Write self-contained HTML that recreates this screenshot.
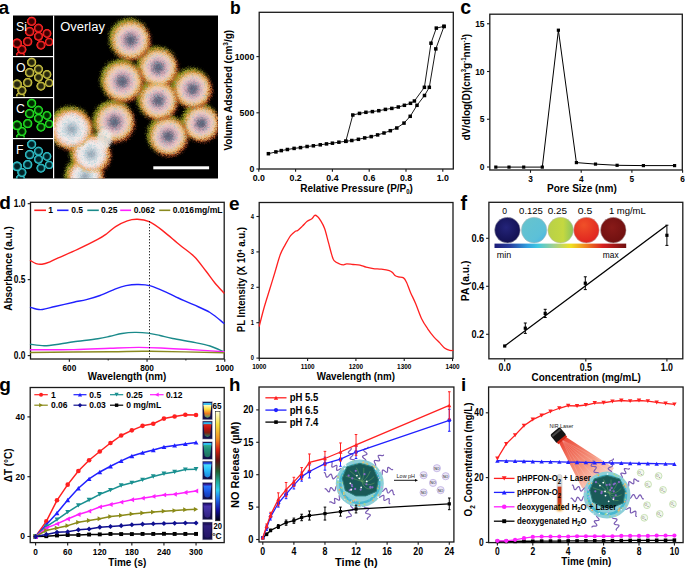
<!DOCTYPE html>
<html><head><meta charset="utf-8"><style>
html,body{margin:0;padding:0;background:#fff;width:685px;height:569px;overflow:hidden}
svg{display:block;font-family:"Liberation Sans", sans-serif}
</style></head><body>
<svg width="685" height="569" viewBox="0 0 685 569">
<rect width="685" height="569" fill="#fff"/>
<defs>
<radialGradient id="pg" cx="50%" cy="50%" r="50%">
<stop offset="0" stop-color="#585a70"/>
<stop offset="0.2" stop-color="#6e6a80"/>
<stop offset="0.44" stop-color="#d4a8b4"/>
<stop offset="0.64" stop-color="#f0ccc8"/>
<stop offset="0.82" stop-color="#f0c898"/>
<stop offset="0.94" stop-color="#e8a850"/>
<stop offset="1" stop-color="#d0b840" stop-opacity="0.7"/>
</radialGradient>
<radialGradient id="pgw" cx="50%" cy="50%" r="50%">
<stop offset="0" stop-color="#8a98a8"/>
<stop offset="0.3" stop-color="#c8d0d8"/>
<stop offset="0.55" stop-color="#f4eeee"/>
<stop offset="0.78" stop-color="#f4d8d0"/>
<stop offset="0.9" stop-color="#f0a060"/>
<stop offset="1" stop-color="#d8c040"/>
</radialGradient>
<filter id="blur2" x="-30%" y="-30%" width="160%" height="160%"><feGaussianBlur stdDeviation="1.6"/></filter>
<filter id="blur1" x="-30%" y="-30%" width="160%" height="160%"><feGaussianBlur stdDeviation="0.9"/></filter>
<filter id="disp" x="-10%" y="-10%" width="120%" height="120%">
<feTurbulence type="turbulence" baseFrequency="0.7" numOctaves="2" seed="7" result="t"/>
<feDisplacementMap in="SourceGraphic" in2="t" scale="4" xChannelSelector="R" yChannelSelector="G"/>
</filter>
<filter id="disp2" x="-10%" y="-10%" width="120%" height="120%">
<feTurbulence type="turbulence" baseFrequency="1.2" numOctaves="1" seed="5" result="t"/>
<feDisplacementMap in="SourceGraphic" in2="t" scale="1.4" xChannelSelector="R" yChannelSelector="G"/>
</filter>
<filter id="noise" x="0" y="0" width="100%" height="100%">
<feTurbulence type="fractalNoise" baseFrequency="0.9" numOctaves="2" seed="4" result="t"/>
<feColorMatrix in="t" type="matrix" values="0 0 0 0 0.1  0 0 0 0 0.5  0 0 0 0 0.6  0 0 0 1.6 -0.75" result="c"/>
<feComposite in="c" in2="SourceGraphic" operator="in"/>
</filter>

<radialGradient id="g_si" cx="50%" cy="50%" r="50%">
<stop offset="0" stop-color="#3a0000"/>
<stop offset="0.45" stop-color="#3a0000"/>
<stop offset="0.78" stop-color="#ff2424"/>
<stop offset="0.92" stop-color="#ff2424" stop-opacity="0.8"/>
<stop offset="1" stop-color="#ff2424" stop-opacity="0.1"/>
</radialGradient>
<radialGradient id="g_o" cx="50%" cy="50%" r="50%">
<stop offset="0" stop-color="#282810"/>
<stop offset="0.45" stop-color="#282810"/>
<stop offset="0.78" stop-color="#c8c040"/>
<stop offset="0.92" stop-color="#c8c040" stop-opacity="0.8"/>
<stop offset="1" stop-color="#c8c040" stop-opacity="0.1"/>
</radialGradient>
<radialGradient id="g_c" cx="50%" cy="50%" r="50%">
<stop offset="0" stop-color="#002a00"/>
<stop offset="0.45" stop-color="#002a00"/>
<stop offset="0.78" stop-color="#22e022"/>
<stop offset="0.92" stop-color="#22e022" stop-opacity="0.8"/>
<stop offset="1" stop-color="#22e022" stop-opacity="0.1"/>
</radialGradient>
<radialGradient id="g_f" cx="50%" cy="50%" r="50%">
<stop offset="0" stop-color="#002428"/>
<stop offset="0.45" stop-color="#002428"/>
<stop offset="0.78" stop-color="#30c0c8"/>
<stop offset="0.92" stop-color="#30c0c8" stop-opacity="0.8"/>
<stop offset="1" stop-color="#30c0c8" stop-opacity="0.1"/>
</radialGradient>
</defs>
<rect x="13" y="15.5" width="205" height="163" fill="#000"/>
<svg x="54" y="15.5" width="164" height="163" overflow="hidden"><g transform="translate(-54 -15.5)"><g filter="url(#disp)">
<g filter="url(#blur2)" opacity="0.85">
<circle cx="128.30" cy="37.80" r="20.4" fill="#b0b828"/>
<circle cx="156.00" cy="65.40" r="20.0" fill="#b0b828"/>
<circle cx="190.40" cy="86.90" r="19.599999999999998" fill="#b0b828"/>
<circle cx="120.20" cy="79.30" r="21.0" fill="#b0b828"/>
<circle cx="156.00" cy="98.40" r="20.0" fill="#b0b828"/>
<circle cx="199.00" cy="121.30" r="18.7" fill="#b0b828"/>
<circle cx="166.00" cy="134.20" r="20.0" fill="#b0b828"/>
<circle cx="82.80" cy="174.80" r="19.2" fill="#b0b828"/>
<circle cx="112.30" cy="119.90" r="20.599999999999998" fill="#b0b828"/>
<circle cx="88.80" cy="151.80" r="20.2" fill="#b0b828"/>
<circle cx="69.30" cy="127.00" r="21.7" fill="#b0b828"/>
<circle cx="130.50" cy="40.00" r="19.4" fill="#d85828"/>
<circle cx="158.20" cy="67.60" r="19.0" fill="#d85828"/>
<circle cx="192.60" cy="89.10" r="18.599999999999998" fill="#d85828"/>
<circle cx="122.40" cy="81.50" r="20.0" fill="#d85828"/>
<circle cx="158.20" cy="100.60" r="19.0" fill="#d85828"/>
<circle cx="201.20" cy="123.50" r="17.7" fill="#d85828"/>
<circle cx="168.20" cy="136.40" r="19.0" fill="#d85828"/>
<circle cx="85.00" cy="177.00" r="18.2" fill="#d85828"/>
<circle cx="114.50" cy="122.10" r="19.599999999999998" fill="#d85828"/>
<circle cx="91.00" cy="154.00" r="19.2" fill="#d85828"/>
<circle cx="71.50" cy="129.20" r="20.7" fill="#d85828"/>
</g>
<g filter="url(#blur1)">
<circle cx="129.50" cy="39.00" r="18.2" fill="url(#pg)"/>
<circle cx="157.20" cy="66.60" r="17.8" fill="url(#pg)"/>
<circle cx="191.60" cy="88.10" r="17.4" fill="url(#pg)"/>
<circle cx="121.40" cy="80.50" r="18.8" fill="url(#pg)"/>
<circle cx="157.20" cy="99.60" r="17.8" fill="url(#pg)"/>
<circle cx="200.20" cy="122.50" r="16.5" fill="url(#pg)"/>
<circle cx="167.20" cy="135.40" r="17.8" fill="url(#pg)"/>
<circle cx="84.00" cy="176.00" r="17" fill="url(#pgw)"/>
<circle cx="113.50" cy="121.10" r="18.4" fill="url(#pg)"/>
<circle cx="90.00" cy="153.00" r="18" fill="url(#pgw)"/>
<circle cx="70.50" cy="128.20" r="19.5" fill="url(#pgw)"/>
</g>
<ellipse cx="103" cy="138" rx="8" ry="10" fill="#f0eeee" opacity="0.85" filter="url(#blur2)"/>
<g filter="url(#noise)" opacity="0.6">
<circle cx="129.50" cy="39.00" r="20.2" fill="#fff"/>
<circle cx="157.20" cy="66.60" r="19.8" fill="#fff"/>
<circle cx="191.60" cy="88.10" r="19.4" fill="#fff"/>
<circle cx="121.40" cy="80.50" r="20.8" fill="#fff"/>
<circle cx="157.20" cy="99.60" r="19.8" fill="#fff"/>
<circle cx="200.20" cy="122.50" r="18.5" fill="#fff"/>
<circle cx="167.20" cy="135.40" r="19.8" fill="#fff"/>
<circle cx="84.00" cy="176.00" r="19" fill="#fff"/>
<circle cx="113.50" cy="121.10" r="20.4" fill="#fff"/>
<circle cx="90.00" cy="153.00" r="20" fill="#fff"/>
<circle cx="70.50" cy="128.20" r="21.5" fill="#fff"/>
</g>
</g></g></svg>
<svg x="13" y="15.5" width="40.5" height="40" overflow="hidden">
<g><g transform="scale(0.247) translate(-54 -15.5)">
<circle cx="129.50" cy="39.00" r="20.2" fill="url(#g_si)" filter="url(#blur1)"/>
<circle cx="157.20" cy="66.60" r="19.8" fill="url(#g_si)" filter="url(#blur1)"/>
<circle cx="191.60" cy="88.10" r="19.4" fill="url(#g_si)" filter="url(#blur1)"/>
<circle cx="121.40" cy="80.50" r="20.8" fill="url(#g_si)" filter="url(#blur1)"/>
<circle cx="157.20" cy="99.60" r="19.8" fill="url(#g_si)" filter="url(#blur1)"/>
<circle cx="200.20" cy="122.50" r="18.5" fill="url(#g_si)" filter="url(#blur1)"/>
<circle cx="167.20" cy="135.40" r="19.8" fill="url(#g_si)" filter="url(#blur1)"/>
<circle cx="84.00" cy="176.00" r="19" fill="url(#g_si)" filter="url(#blur1)"/>
<circle cx="113.50" cy="121.10" r="20.4" fill="url(#g_si)" filter="url(#blur1)"/>
<circle cx="90.00" cy="153.00" r="20" fill="url(#g_si)" filter="url(#blur1)"/>
<circle cx="70.50" cy="128.20" r="21.5" fill="url(#g_si)" filter="url(#blur1)"/>
</g></g></svg>
<text x="0" y="0" font-size="12.3" font-weight="normal" text-anchor="start" fill="#fff" transform="translate(16 30.8)">Si</text>
<svg x="13" y="56.5" width="40.5" height="40" overflow="hidden">
<g><g transform="scale(0.247) translate(-54 -15.5)">
<circle cx="129.50" cy="39.00" r="20.2" fill="url(#g_o)" filter="url(#blur1)"/>
<circle cx="157.20" cy="66.60" r="19.8" fill="url(#g_o)" filter="url(#blur1)"/>
<circle cx="191.60" cy="88.10" r="19.4" fill="url(#g_o)" filter="url(#blur1)"/>
<circle cx="121.40" cy="80.50" r="20.8" fill="url(#g_o)" filter="url(#blur1)"/>
<circle cx="157.20" cy="99.60" r="19.8" fill="url(#g_o)" filter="url(#blur1)"/>
<circle cx="200.20" cy="122.50" r="18.5" fill="url(#g_o)" filter="url(#blur1)"/>
<circle cx="167.20" cy="135.40" r="19.8" fill="url(#g_o)" filter="url(#blur1)"/>
<circle cx="84.00" cy="176.00" r="19" fill="url(#g_o)" filter="url(#blur1)"/>
<circle cx="113.50" cy="121.10" r="20.4" fill="url(#g_o)" filter="url(#blur1)"/>
<circle cx="90.00" cy="153.00" r="20" fill="url(#g_o)" filter="url(#blur1)"/>
<circle cx="70.50" cy="128.20" r="21.5" fill="url(#g_o)" filter="url(#blur1)"/>
</g></g></svg>
<text x="0" y="0" font-size="12.3" font-weight="normal" text-anchor="start" fill="#fff" transform="translate(16 71.8)">O</text>
<svg x="13" y="97.5" width="40.5" height="40" overflow="hidden">
<g><g transform="scale(0.247) translate(-54 -15.5)">
<circle cx="129.50" cy="39.00" r="20.2" fill="url(#g_c)" filter="url(#blur1)"/>
<circle cx="157.20" cy="66.60" r="19.8" fill="url(#g_c)" filter="url(#blur1)"/>
<circle cx="191.60" cy="88.10" r="19.4" fill="url(#g_c)" filter="url(#blur1)"/>
<circle cx="121.40" cy="80.50" r="20.8" fill="url(#g_c)" filter="url(#blur1)"/>
<circle cx="157.20" cy="99.60" r="19.8" fill="url(#g_c)" filter="url(#blur1)"/>
<circle cx="200.20" cy="122.50" r="18.5" fill="url(#g_c)" filter="url(#blur1)"/>
<circle cx="167.20" cy="135.40" r="19.8" fill="url(#g_c)" filter="url(#blur1)"/>
<circle cx="84.00" cy="176.00" r="19" fill="url(#g_c)" filter="url(#blur1)"/>
<circle cx="113.50" cy="121.10" r="20.4" fill="url(#g_c)" filter="url(#blur1)"/>
<circle cx="90.00" cy="153.00" r="20" fill="url(#g_c)" filter="url(#blur1)"/>
<circle cx="70.50" cy="128.20" r="21.5" fill="url(#g_c)" filter="url(#blur1)"/>
</g></g></svg>
<text x="0" y="0" font-size="12.3" font-weight="normal" text-anchor="start" fill="#fff" transform="translate(16 112.8)">C</text>
<svg x="13" y="138.5" width="40.5" height="40" overflow="hidden">
<g><g transform="scale(0.247) translate(-54 -15.5)">
<circle cx="129.50" cy="39.00" r="20.2" fill="url(#g_f)" filter="url(#blur1)"/>
<circle cx="157.20" cy="66.60" r="19.8" fill="url(#g_f)" filter="url(#blur1)"/>
<circle cx="191.60" cy="88.10" r="19.4" fill="url(#g_f)" filter="url(#blur1)"/>
<circle cx="121.40" cy="80.50" r="20.8" fill="url(#g_f)" filter="url(#blur1)"/>
<circle cx="157.20" cy="99.60" r="19.8" fill="url(#g_f)" filter="url(#blur1)"/>
<circle cx="200.20" cy="122.50" r="18.5" fill="url(#g_f)" filter="url(#blur1)"/>
<circle cx="167.20" cy="135.40" r="19.8" fill="url(#g_f)" filter="url(#blur1)"/>
<circle cx="84.00" cy="176.00" r="19" fill="url(#g_f)" filter="url(#blur1)"/>
<circle cx="113.50" cy="121.10" r="20.4" fill="url(#g_f)" filter="url(#blur1)"/>
<circle cx="90.00" cy="153.00" r="20" fill="url(#g_f)" filter="url(#blur1)"/>
<circle cx="70.50" cy="128.20" r="21.5" fill="url(#g_f)" filter="url(#blur1)"/>
</g></g></svg>
<text x="0" y="0" font-size="12.3" font-weight="normal" text-anchor="start" fill="#fff" transform="translate(16 153.8)">F</text>
<rect x="53" y="15.5" width="1.2" height="163" fill="#fff"/>
<rect x="13" y="56" width="40.5" height="1.2" fill="#fff"/>
<rect x="13" y="97" width="40.5" height="1.2" fill="#fff"/>
<rect x="13" y="138" width="40.5" height="1.2" fill="#fff"/>
<text x="0" y="0" font-size="12.3" font-weight="normal" text-anchor="start" fill="#fff" transform="translate(60.2 31)" textLength="44.8" lengthAdjust="spacingAndGlyphs">Overlay</text>
<rect x="153.3" y="166.3" width="55.8" height="3" fill="#fff"/>
<text x="0" y="0" font-size="19.2" font-weight="bold" text-anchor="start" fill="#000" transform="translate(-1.6 13.8)">a</text>
<rect x="259.2" y="12.3" width="194.10000000000002" height="156.7" fill="none" stroke="#1a1a1a" stroke-width="1.3"/>
<line x1="256.40" y1="169.00" x2="259.20" y2="169.00" stroke="#1a1a1a" stroke-width="1.1"/>
<text x="0" y="0" font-size="8.8" font-weight="bold" text-anchor="end" fill="#000" transform="translate(254.3 172.1) scale(1 1.1)">0</text>
<line x1="256.40" y1="112.80" x2="259.20" y2="112.80" stroke="#1a1a1a" stroke-width="1.1"/>
<text x="0" y="0" font-size="8.8" font-weight="bold" text-anchor="end" fill="#000" transform="translate(254.3 115.89999999999999) scale(1 1.1)">500</text>
<line x1="256.40" y1="56.60" x2="259.20" y2="56.60" stroke="#1a1a1a" stroke-width="1.1"/>
<text x="0" y="0" font-size="8.8" font-weight="bold" text-anchor="end" fill="#000" transform="translate(254.3 59.699999999999996) scale(1 1.1)">1000</text>
<line x1="258.80" y1="169.00" x2="258.80" y2="171.80" stroke="#1a1a1a" stroke-width="1.1"/>
<text x="0" y="0" font-size="8.8" font-weight="bold" text-anchor="middle" fill="#000" transform="translate(258.8 181) scale(1 1.1)">0.0</text>
<line x1="295.60" y1="169.00" x2="295.60" y2="171.80" stroke="#1a1a1a" stroke-width="1.1"/>
<text x="0" y="0" font-size="8.8" font-weight="bold" text-anchor="middle" fill="#000" transform="translate(295.6 181) scale(1 1.1)">0.2</text>
<line x1="332.40" y1="169.00" x2="332.40" y2="171.80" stroke="#1a1a1a" stroke-width="1.1"/>
<text x="0" y="0" font-size="8.8" font-weight="bold" text-anchor="middle" fill="#000" transform="translate(332.40000000000003 181) scale(1 1.1)">0.4</text>
<line x1="369.20" y1="169.00" x2="369.20" y2="171.80" stroke="#1a1a1a" stroke-width="1.1"/>
<text x="0" y="0" font-size="8.8" font-weight="bold" text-anchor="middle" fill="#000" transform="translate(369.2 181) scale(1 1.1)">0.6</text>
<line x1="406.00" y1="169.00" x2="406.00" y2="171.80" stroke="#1a1a1a" stroke-width="1.1"/>
<text x="0" y="0" font-size="8.8" font-weight="bold" text-anchor="middle" fill="#000" transform="translate(406.0 181) scale(1 1.1)">0.8</text>
<line x1="442.80" y1="169.00" x2="442.80" y2="171.80" stroke="#1a1a1a" stroke-width="1.1"/>
<text x="0" y="0" font-size="8.8" font-weight="bold" text-anchor="middle" fill="#000" transform="translate(442.8 181) scale(1 1.1)">1.0</text>
<polyline points="268.40,153.70 275.90,151.90 281.30,150.60 287.40,149.50 294.10,148.40 300.50,147.60 307.10,146.50 313.40,145.80 320.30,144.80 326.50,143.90 332.40,143.20 338.90,142.20 345.80,141.30 351.80,140.50 358.40,139.30 364.70,137.90 371.20,136.60 377.60,134.90 384.00,133.00 390.30,130.70 396.80,128.00 404.00,123.10 410.20,116.30 417.00,105.30 424.50,95.50 429.30,87.30 435.80,48.90 444.00,26.40" fill="none" stroke="#000" stroke-width="0.9" stroke-linejoin="round"/>
<polyline points="345.80,141.30 352.80,115.00 359.50,113.40 365.90,112.30 372.40,111.60 378.80,110.70 385.40,109.40 391.80,108.40 398.30,107.00 404.40,105.30 410.50,103.30 414.40,101.00 424.40,87.30 431.00,43.20 436.30,28.10 444.00,26.40" fill="none" stroke="#000" stroke-width="0.9" stroke-linejoin="round"/>
<rect x="266.65" y="151.95" width="3.5" height="3.5" fill="#000"/>
<rect x="274.15" y="150.15" width="3.5" height="3.5" fill="#000"/>
<rect x="279.55" y="148.85" width="3.5" height="3.5" fill="#000"/>
<rect x="285.65" y="147.75" width="3.5" height="3.5" fill="#000"/>
<rect x="292.35" y="146.65" width="3.5" height="3.5" fill="#000"/>
<rect x="298.75" y="145.85" width="3.5" height="3.5" fill="#000"/>
<rect x="305.35" y="144.75" width="3.5" height="3.5" fill="#000"/>
<rect x="311.65" y="144.05" width="3.5" height="3.5" fill="#000"/>
<rect x="318.55" y="143.05" width="3.5" height="3.5" fill="#000"/>
<rect x="324.75" y="142.15" width="3.5" height="3.5" fill="#000"/>
<rect x="330.65" y="141.45" width="3.5" height="3.5" fill="#000"/>
<rect x="337.15" y="140.45" width="3.5" height="3.5" fill="#000"/>
<rect x="344.05" y="139.55" width="3.5" height="3.5" fill="#000"/>
<rect x="350.05" y="138.75" width="3.5" height="3.5" fill="#000"/>
<rect x="356.65" y="137.55" width="3.5" height="3.5" fill="#000"/>
<rect x="362.95" y="136.15" width="3.5" height="3.5" fill="#000"/>
<rect x="369.45" y="134.85" width="3.5" height="3.5" fill="#000"/>
<rect x="375.85" y="133.15" width="3.5" height="3.5" fill="#000"/>
<rect x="382.25" y="131.25" width="3.5" height="3.5" fill="#000"/>
<rect x="388.55" y="128.95" width="3.5" height="3.5" fill="#000"/>
<rect x="395.05" y="126.25" width="3.5" height="3.5" fill="#000"/>
<rect x="402.25" y="121.35" width="3.5" height="3.5" fill="#000"/>
<rect x="408.45" y="114.55" width="3.5" height="3.5" fill="#000"/>
<rect x="415.25" y="103.55" width="3.5" height="3.5" fill="#000"/>
<rect x="422.75" y="93.75" width="3.5" height="3.5" fill="#000"/>
<rect x="427.55" y="85.55" width="3.5" height="3.5" fill="#000"/>
<rect x="434.05" y="47.15" width="3.5" height="3.5" fill="#000"/>
<rect x="442.25" y="24.65" width="3.5" height="3.5" fill="#000"/>
<rect x="344.05" y="139.55" width="3.5" height="3.5" fill="#000"/>
<rect x="351.05" y="113.25" width="3.5" height="3.5" fill="#000"/>
<rect x="357.75" y="111.65" width="3.5" height="3.5" fill="#000"/>
<rect x="364.15" y="110.55" width="3.5" height="3.5" fill="#000"/>
<rect x="370.65" y="109.85" width="3.5" height="3.5" fill="#000"/>
<rect x="377.05" y="108.95" width="3.5" height="3.5" fill="#000"/>
<rect x="383.65" y="107.65" width="3.5" height="3.5" fill="#000"/>
<rect x="390.05" y="106.65" width="3.5" height="3.5" fill="#000"/>
<rect x="396.55" y="105.25" width="3.5" height="3.5" fill="#000"/>
<rect x="402.65" y="103.55" width="3.5" height="3.5" fill="#000"/>
<rect x="408.75" y="101.55" width="3.5" height="3.5" fill="#000"/>
<rect x="412.65" y="99.25" width="3.5" height="3.5" fill="#000"/>
<rect x="422.65" y="85.55" width="3.5" height="3.5" fill="#000"/>
<rect x="429.25" y="41.45" width="3.5" height="3.5" fill="#000"/>
<rect x="434.55" y="26.35" width="3.5" height="3.5" fill="#000"/>
<rect x="442.25" y="24.65" width="3.5" height="3.5" fill="#000"/>
<text x="0" y="0" font-size="10" font-weight="bold" text-anchor="start" fill="#000" transform="translate(300.2 191.6) scale(1 1.1)">Relative Pressure (P/P<tspan font-size="6" dy="2">0</tspan><tspan dy="-2">)</tspan></text>
<text x="0" y="0" font-size="10" font-weight="bold" text-anchor="start" fill="#000" transform="translate(232.2 150.6) rotate(-90) scale(1 1.1)">Volume Adsorbed (cm<tspan font-size="6.5" dy="-3.5">3</tspan><tspan dy="3.5">/g)</tspan></text>
<text x="0" y="0" font-size="17.5" font-weight="bold" text-anchor="start" fill="#000" transform="translate(230 13.9)">b</text>
<rect x="489.8" y="14.2" width="192.49999999999994" height="155.8" fill="none" stroke="#1a1a1a" stroke-width="1.3"/>
<line x1="487.00" y1="167.00" x2="489.80" y2="167.00" stroke="#1a1a1a" stroke-width="1.1"/>
<text x="0" y="0" font-size="8.5" font-weight="bold" text-anchor="end" fill="#000" transform="translate(484.6 170.0) scale(1 1.1)">0</text>
<line x1="487.00" y1="119.25" x2="489.80" y2="119.25" stroke="#1a1a1a" stroke-width="1.1"/>
<text x="0" y="0" font-size="8.5" font-weight="bold" text-anchor="end" fill="#000" transform="translate(484.6 122.25) scale(1 1.1)">5</text>
<line x1="487.00" y1="71.50" x2="489.80" y2="71.50" stroke="#1a1a1a" stroke-width="1.1"/>
<text x="0" y="0" font-size="8.5" font-weight="bold" text-anchor="end" fill="#000" transform="translate(484.6 74.5) scale(1 1.1)">10</text>
<line x1="487.00" y1="23.75" x2="489.80" y2="23.75" stroke="#1a1a1a" stroke-width="1.1"/>
<text x="0" y="0" font-size="8.5" font-weight="bold" text-anchor="end" fill="#000" transform="translate(484.6 26.75) scale(1 1.1)">15</text>
<line x1="530.50" y1="170.00" x2="530.50" y2="172.80" stroke="#1a1a1a" stroke-width="1.1"/>
<text x="0" y="0" font-size="8.3" font-weight="bold" text-anchor="middle" fill="#000" transform="translate(530.5 182.4) scale(1 1.1)">3</text>
<line x1="581.20" y1="170.00" x2="581.20" y2="172.80" stroke="#1a1a1a" stroke-width="1.1"/>
<text x="0" y="0" font-size="8.3" font-weight="bold" text-anchor="middle" fill="#000" transform="translate(581.2 182.4) scale(1 1.1)">4</text>
<line x1="631.90" y1="170.00" x2="631.90" y2="172.80" stroke="#1a1a1a" stroke-width="1.1"/>
<text x="0" y="0" font-size="8.3" font-weight="bold" text-anchor="middle" fill="#000" transform="translate(631.9 182.4) scale(1 1.1)">5</text>
<line x1="682.60" y1="170.00" x2="682.60" y2="172.80" stroke="#1a1a1a" stroke-width="1.1"/>
<text x="0" y="0" font-size="8.3" font-weight="bold" text-anchor="middle" fill="#000" transform="translate(682.6 182.4) scale(1 1.1)">6</text>
<polyline points="495.80,167.10 509.00,167.10 523.70,167.10 542.30,167.10 558.40,30.20 576.40,162.60 595.50,164.10 617.10,165.30 643.40,165.60 674.60,165.60" fill="none" stroke="#000" stroke-width="1.0" stroke-linejoin="round"/>
<rect x="494.20" y="165.50" width="3.2" height="3.2" fill="#000"/>
<rect x="507.40" y="165.50" width="3.2" height="3.2" fill="#000"/>
<rect x="522.10" y="165.50" width="3.2" height="3.2" fill="#000"/>
<rect x="540.70" y="165.50" width="3.2" height="3.2" fill="#000"/>
<rect x="556.80" y="28.60" width="3.2" height="3.2" fill="#000"/>
<rect x="574.80" y="161.00" width="3.2" height="3.2" fill="#000"/>
<rect x="593.90" y="162.50" width="3.2" height="3.2" fill="#000"/>
<rect x="615.50" y="163.70" width="3.2" height="3.2" fill="#000"/>
<rect x="641.80" y="164.00" width="3.2" height="3.2" fill="#000"/>
<rect x="673.00" y="164.00" width="3.2" height="3.2" fill="#000"/>
<text x="0" y="0" font-size="10" font-weight="bold" text-anchor="start" fill="#000" transform="translate(547 191.9)" textLength="69.8" lengthAdjust="spacingAndGlyphs">Pore Size (nm)</text>
<text x="0" y="0" font-size="10" font-weight="bold" text-anchor="start" fill="#000" transform="translate(469.6 140.5) rotate(-90) scale(1 1.1)">dV/dlog(D)(cm<tspan font-size="6" dy="-3">3</tspan><tspan dy="3">g</tspan><tspan font-size="6" dy="-3">-1</tspan><tspan dy="3">nm</tspan><tspan font-size="6" dy="-3">-1</tspan><tspan dy="3">)</tspan></text>
<text x="0" y="0" font-size="19.5" font-weight="bold" text-anchor="start" fill="#000" transform="translate(460.3 14.1)">c</text>
<rect x="30.5" y="202.3" width="193.7" height="156.7" fill="none" stroke="#1a1a1a" stroke-width="1.3"/>
<line x1="27.70" y1="355.60" x2="30.50" y2="355.60" stroke="#1a1a1a" stroke-width="1.1"/>
<text x="0" y="0" font-size="8.4" font-weight="bold" text-anchor="end" fill="#000" transform="translate(25.4 358.70000000000005) scale(1 1.25)">0.0</text>
<line x1="27.70" y1="279.65" x2="30.50" y2="279.65" stroke="#1a1a1a" stroke-width="1.1"/>
<text x="0" y="0" font-size="8.4" font-weight="bold" text-anchor="end" fill="#000" transform="translate(25.4 282.75000000000006) scale(1 1.25)">0.5</text>
<line x1="27.70" y1="203.70" x2="30.50" y2="203.70" stroke="#1a1a1a" stroke-width="1.1"/>
<text x="0" y="0" font-size="8.4" font-weight="bold" text-anchor="end" fill="#000" transform="translate(25.4 206.8) scale(1 1.25)">1.0</text>
<line x1="69.35" y1="359.00" x2="69.35" y2="361.80" stroke="#1a1a1a" stroke-width="1.1"/>
<text x="0" y="0" font-size="8.3" font-weight="bold" text-anchor="middle" fill="#000" transform="translate(69.35 371.2) scale(1 1.2)">600</text>
<line x1="147.05" y1="359.00" x2="147.05" y2="361.80" stroke="#1a1a1a" stroke-width="1.1"/>
<text x="0" y="0" font-size="8.3" font-weight="bold" text-anchor="middle" fill="#000" transform="translate(147.05 371.2) scale(1 1.2)">800</text>
<line x1="224.75" y1="359.00" x2="224.75" y2="361.80" stroke="#1a1a1a" stroke-width="1.1"/>
<text x="0" y="0" font-size="8.3" font-weight="bold" text-anchor="middle" fill="#000" transform="translate(224.75 371.2) scale(1 1.2)">1000</text>
<line x1="108.20" y1="359.00" x2="108.20" y2="360.50" stroke="#1a1a1a" stroke-width="1.0"/>
<line x1="185.90" y1="359.00" x2="185.90" y2="360.50" stroke="#1a1a1a" stroke-width="1.0"/>
<path d="M30.50,260.60 C31.42,261.10 34.08,263.00 36.00,263.60 C37.92,264.20 39.67,264.50 42.00,264.20 C44.33,263.90 47.47,262.77 50.00,261.80 C52.53,260.83 52.60,260.47 57.20,258.40 C61.80,256.33 70.78,252.60 77.60,249.40 C84.42,246.20 93.20,241.85 98.10,239.20 C103.00,236.55 104.08,235.60 107.00,233.50 C109.92,231.40 112.22,228.72 115.60,226.60 C118.98,224.48 123.65,222.02 127.30,220.80 C130.95,219.58 133.85,219.15 137.50,219.30 C141.15,219.45 145.07,219.85 149.20,221.70 C153.33,223.55 157.20,226.52 162.30,230.40 C167.40,234.28 174.45,240.62 179.80,245.00 C185.15,249.38 190.02,252.32 194.40,256.70 C198.78,261.08 202.68,266.92 206.10,271.30 C209.52,275.68 211.93,279.38 214.90,283.00 C217.87,286.62 222.40,291.33 223.90,293.00" fill="none" stroke="#ff2020" stroke-width="1.4" stroke-linejoin="round" stroke-linecap="round"/>
<path d="M30.50,307.30 C31.42,307.58 34.00,308.63 36.00,309.00 C38.00,309.37 39.33,309.92 42.50,309.50 C45.67,309.08 49.78,307.72 55.00,306.50 C60.22,305.28 68.57,303.35 73.80,302.20 C79.03,301.05 82.03,300.72 86.40,299.60 C90.77,298.48 95.13,297.30 100.00,295.50 C104.87,293.70 111.27,290.45 115.60,288.80 C119.93,287.15 122.35,286.32 126.00,285.60 C129.65,284.88 133.40,284.45 137.50,284.50 C141.60,284.55 145.50,284.45 150.60,285.90 C155.70,287.35 163.48,291.18 168.10,293.20 C172.72,295.22 174.07,296.08 178.30,298.00 C182.53,299.92 188.22,302.28 193.50,304.70 C198.78,307.12 204.93,309.40 210.00,312.50 C215.07,315.60 221.58,321.50 223.90,323.30" fill="none" stroke="#2020ff" stroke-width="1.4" stroke-linejoin="round" stroke-linecap="round"/>
<path d="M30.50,344.20 C32.80,344.45 39.38,345.73 44.30,345.70 C49.22,345.67 55.08,344.65 60.00,344.00 C64.92,343.35 67.50,342.68 73.80,341.80 C80.10,340.92 91.77,339.62 97.80,338.70 C103.83,337.78 105.97,337.17 110.00,336.30 C114.03,335.43 117.88,334.15 122.00,333.50 C126.12,332.85 130.37,332.47 134.70,332.40 C139.03,332.33 143.78,332.58 148.00,333.10 C152.22,333.62 155.90,334.60 160.00,335.50 C164.10,336.40 166.70,337.32 172.60,338.50 C178.50,339.68 189.17,341.35 195.40,342.60 C201.63,343.85 205.25,344.48 210.00,346.00 C214.75,347.52 221.58,350.75 223.90,351.70" fill="none" stroke="#1a8a8a" stroke-width="1.4" stroke-linejoin="round" stroke-linecap="round"/>
<path d="M30.50,349.80 C37.72,349.77 60.55,349.87 73.80,349.60 C87.05,349.33 99.22,348.57 110.00,348.20 C120.78,347.83 129.33,347.40 138.50,347.40 C147.67,347.40 157.10,347.88 165.00,348.20 C172.90,348.52 176.08,348.72 185.90,349.30 C195.72,349.88 217.57,351.30 223.90,351.70" fill="none" stroke="#ff20ff" stroke-width="1.4" stroke-linejoin="round" stroke-linecap="round"/>
<path d="M30.50,352.50 C43.75,352.37 90.08,351.90 110.00,351.70 C129.92,351.50 131.02,351.13 150.00,351.30 C168.98,351.47 211.58,352.47 223.90,352.70" fill="none" stroke="#8a8a20" stroke-width="1.4" stroke-linejoin="round" stroke-linecap="round"/>
<line x1="149.50" y1="221.00" x2="149.50" y2="357.50" stroke="#000" stroke-width="0.8" stroke-dasharray="1.4,1.6"/>
<line x1="34.30" y1="210.30" x2="46.00" y2="210.30" stroke="#ff2020" stroke-width="1.6"/>
<text x="0" y="0" font-size="8.5" font-weight="bold" text-anchor="start" fill="#000" transform="translate(48.3 213.3) scale(1 1.1)">1</text>
<line x1="57.10" y1="210.30" x2="68.50" y2="210.30" stroke="#2020ff" stroke-width="1.6"/>
<text x="0" y="0" font-size="8.5" font-weight="bold" text-anchor="start" fill="#000" transform="translate(71.2 213.3) scale(1 1.1)">0.5</text>
<line x1="87.30" y1="210.30" x2="98.80" y2="210.30" stroke="#1a8a8a" stroke-width="1.6"/>
<text x="0" y="0" font-size="8.5" font-weight="bold" text-anchor="start" fill="#000" transform="translate(101 213.3) scale(1 1.1)">0.25</text>
<line x1="120.20" y1="210.30" x2="131.10" y2="210.30" stroke="#ff20ff" stroke-width="1.6"/>
<text x="0" y="0" font-size="8.5" font-weight="bold" text-anchor="start" fill="#000" transform="translate(133.7 213.3) scale(1 1.1)">0.062</text>
<line x1="159.20" y1="210.30" x2="170.30" y2="210.30" stroke="#8a8a20" stroke-width="1.6"/>
<text x="0" y="0" font-size="8.5" font-weight="bold" text-anchor="start" fill="#000" transform="translate(172.7 213.3) scale(1 1.1)">0.016</text>
<text x="0" y="0" font-size="8.5" font-weight="bold" text-anchor="start" fill="#000" transform="translate(194.4 213.3) scale(1 1.1)" textLength="28.1" lengthAdjust="spacingAndGlyphs">mg/mL</text>
<text x="0" y="0" font-size="9.8" font-weight="bold" text-anchor="start" fill="#000" transform="translate(87.8 380.4) scale(1 1.1)" textLength="78.4" lengthAdjust="spacingAndGlyphs">Wavelength (nm)</text>
<text x="0" y="0" font-size="10" font-weight="bold" text-anchor="start" fill="#000" transform="translate(11.6 310.8) rotate(-90) scale(1 1.1)" textLength="84.6" lengthAdjust="spacingAndGlyphs">Absorbance (a.u.)</text>
<text x="0" y="0" font-size="19" font-weight="bold" text-anchor="start" fill="#000" transform="translate(-0.8 209.3)">d</text>
<rect x="259.2" y="202.5" width="193.8" height="155.8" fill="none" stroke="#1a1a1a" stroke-width="1.3"/>
<line x1="256.40" y1="358.10" x2="259.20" y2="358.10" stroke="#1a1a1a" stroke-width="1.1"/>
<text x="0" y="0" font-size="5.8" font-weight="bold" text-anchor="end" fill="#000" transform="translate(254 360.20000000000005) scale(1 1.1)">0</text>
<line x1="256.40" y1="322.70" x2="259.20" y2="322.70" stroke="#1a1a1a" stroke-width="1.1"/>
<text x="0" y="0" font-size="5.8" font-weight="bold" text-anchor="end" fill="#000" transform="translate(254 324.80000000000007) scale(1 1.1)">1</text>
<line x1="256.40" y1="287.30" x2="259.20" y2="287.30" stroke="#1a1a1a" stroke-width="1.1"/>
<text x="0" y="0" font-size="5.8" font-weight="bold" text-anchor="end" fill="#000" transform="translate(254 289.40000000000003) scale(1 1.1)">2</text>
<line x1="256.40" y1="251.90" x2="259.20" y2="251.90" stroke="#1a1a1a" stroke-width="1.1"/>
<text x="0" y="0" font-size="5.8" font-weight="bold" text-anchor="end" fill="#000" transform="translate(254 254.00000000000003) scale(1 1.1)">3</text>
<line x1="256.40" y1="216.50" x2="259.20" y2="216.50" stroke="#1a1a1a" stroke-width="1.1"/>
<text x="0" y="0" font-size="5.8" font-weight="bold" text-anchor="end" fill="#000" transform="translate(254 218.60000000000002) scale(1 1.1)">4</text>
<line x1="259.30" y1="358.30" x2="259.30" y2="361.10" stroke="#1a1a1a" stroke-width="1.1"/>
<text x="0" y="0" font-size="6.4" font-weight="bold" text-anchor="middle" fill="#000" transform="translate(259.3 369.2) scale(1 1.1)">1000</text>
<line x1="307.61" y1="358.30" x2="307.61" y2="361.10" stroke="#1a1a1a" stroke-width="1.1"/>
<text x="0" y="0" font-size="6.4" font-weight="bold" text-anchor="middle" fill="#000" transform="translate(307.61 369.2) scale(1 1.1)">1100</text>
<line x1="355.92" y1="358.30" x2="355.92" y2="361.10" stroke="#1a1a1a" stroke-width="1.1"/>
<text x="0" y="0" font-size="6.4" font-weight="bold" text-anchor="middle" fill="#000" transform="translate(355.92 369.2) scale(1 1.1)">1200</text>
<line x1="404.23" y1="358.30" x2="404.23" y2="361.10" stroke="#1a1a1a" stroke-width="1.1"/>
<text x="0" y="0" font-size="6.4" font-weight="bold" text-anchor="middle" fill="#000" transform="translate(404.23 369.2) scale(1 1.1)">1300</text>
<line x1="452.54" y1="358.30" x2="452.54" y2="361.10" stroke="#1a1a1a" stroke-width="1.1"/>
<text x="0" y="0" font-size="6.4" font-weight="bold" text-anchor="middle" fill="#000" transform="translate(452.53999999999996 369.2) scale(1 1.1)">1400</text>
<path d="M259.30,326.00 C260.08,323.00 262.30,314.00 264.00,308.00 C265.70,302.00 267.70,295.88 269.50,290.00 C271.30,284.12 273.00,278.60 274.80,272.70 C276.60,266.80 278.60,259.20 280.30,254.60 C282.00,250.00 283.28,248.27 285.00,245.10 C286.72,241.93 288.88,237.90 290.60,235.60 C292.32,233.30 294.12,232.17 295.30,231.30 C296.48,230.43 296.52,231.27 297.70,230.40 C298.88,229.53 300.82,227.62 302.40,226.10 C303.98,224.58 305.62,222.53 307.20,221.30 C308.78,220.07 310.63,219.70 311.90,218.70 C313.17,217.70 313.87,215.65 314.80,215.30 C315.73,214.95 316.53,215.72 317.50,216.60 C318.47,217.48 319.42,218.62 320.60,220.60 C321.78,222.58 323.28,224.82 324.60,228.50 C325.92,232.18 327.32,238.35 328.50,242.70 C329.68,247.05 330.77,251.62 331.70,254.60 C332.63,257.58 332.78,259.03 334.10,260.60 C335.42,262.17 338.02,263.30 339.60,264.00 C341.18,264.70 342.42,264.82 343.60,264.80 C344.78,264.78 345.13,263.95 346.70,263.90 C348.27,263.85 350.78,264.30 353.00,264.50 C355.22,264.70 357.82,264.65 360.00,265.10 C362.18,265.55 363.90,266.62 366.10,267.20 C368.30,267.78 370.67,268.27 373.20,268.60 C375.73,268.93 378.62,268.87 381.30,269.20 C383.98,269.53 387.45,270.03 389.30,270.60 C391.15,271.17 391.38,271.73 392.40,272.60 C393.42,273.47 394.40,275.08 395.40,275.80 C396.40,276.52 397.05,276.55 398.40,276.90 C399.75,277.25 402.15,277.00 403.50,277.90 C404.85,278.80 405.33,279.88 406.50,282.30 C407.67,284.72 408.98,288.87 410.50,292.40 C412.02,295.93 413.75,299.12 415.60,303.50 C417.45,307.88 419.58,314.48 421.60,318.70 C423.62,322.92 425.67,325.78 427.70,328.80 C429.73,331.82 431.78,334.45 433.80,336.80 C435.82,339.15 437.95,340.98 439.80,342.90 C441.65,344.82 443.22,347.05 444.90,348.30 C446.58,349.55 448.57,350.05 449.90,350.40 C451.23,350.75 452.40,350.40 452.90,350.40" fill="none" stroke="#ff2020" stroke-width="1.3" stroke-linejoin="round" stroke-linecap="round"/>
<text x="0" y="0" font-size="9.8" font-weight="bold" text-anchor="start" fill="#000" transform="translate(316.8 380.2) scale(1 1.1)" textLength="78.2" lengthAdjust="spacingAndGlyphs">Wavelength (nm)</text>
<text x="0" y="0" font-size="9.6" font-weight="bold" text-anchor="start" fill="#000" transform="translate(244.8 332.2) rotate(-90) scale(1 1.1)">PL Intensity (X 10<tspan font-size="5.5" dy="-3">4</tspan><tspan dy="3"> a.u.)</tspan></text>
<text x="0" y="0" font-size="19" font-weight="bold" text-anchor="start" fill="#000" transform="translate(229 209.7)">e</text>
<rect x="488.9" y="202.3" width="193.89999999999998" height="156.5" fill="none" stroke="#1a1a1a" stroke-width="1.3"/>
<line x1="486.10" y1="334.30" x2="488.90" y2="334.30" stroke="#1a1a1a" stroke-width="1.1"/>
<text x="0" y="0" font-size="9.2" font-weight="bold" text-anchor="end" fill="#000" transform="translate(484.2 337.5) scale(1 1.15)">0.2</text>
<line x1="486.10" y1="286.30" x2="488.90" y2="286.30" stroke="#1a1a1a" stroke-width="1.1"/>
<text x="0" y="0" font-size="9.2" font-weight="bold" text-anchor="end" fill="#000" transform="translate(484.2 289.5) scale(1 1.15)">0.4</text>
<line x1="486.10" y1="238.30" x2="488.90" y2="238.30" stroke="#1a1a1a" stroke-width="1.1"/>
<text x="0" y="0" font-size="9.2" font-weight="bold" text-anchor="end" fill="#000" transform="translate(484.2 241.5) scale(1 1.15)">0.6</text>
<line x1="504.70" y1="358.80" x2="504.70" y2="361.60" stroke="#1a1a1a" stroke-width="1.1"/>
<text x="0" y="0" font-size="8.8" font-weight="bold" text-anchor="middle" fill="#000" transform="translate(504.7 371) scale(1 1.15)">0.0</text>
<line x1="585.80" y1="358.80" x2="585.80" y2="361.60" stroke="#1a1a1a" stroke-width="1.1"/>
<text x="0" y="0" font-size="8.8" font-weight="bold" text-anchor="middle" fill="#000" transform="translate(585.8 371) scale(1 1.15)">0.5</text>
<line x1="666.90" y1="358.80" x2="666.90" y2="361.60" stroke="#1a1a1a" stroke-width="1.1"/>
<text x="0" y="0" font-size="8.8" font-weight="bold" text-anchor="middle" fill="#000" transform="translate(666.9 371) scale(1 1.15)">1.0</text>
<line x1="504.70" y1="346.00" x2="666.90" y2="225.30" stroke="#000" stroke-width="1.3"/>
<rect x="503.10" y="344.40" width="3.2" height="3.2" fill="#000"/>
<line x1="525.30" y1="323.00" x2="525.30" y2="333.40" stroke="#000" stroke-width="1"/>
<line x1="523.80" y1="323.00" x2="526.80" y2="323.00" stroke="#000" stroke-width="1"/>
<line x1="523.80" y1="333.40" x2="526.80" y2="333.40" stroke="#000" stroke-width="1"/>
<rect x="523.70" y="326.60" width="3.2" height="3.2" fill="#000"/>
<line x1="545.20" y1="309.30" x2="545.20" y2="317.50" stroke="#000" stroke-width="1"/>
<line x1="543.70" y1="309.30" x2="546.70" y2="309.30" stroke="#000" stroke-width="1"/>
<line x1="543.70" y1="317.50" x2="546.70" y2="317.50" stroke="#000" stroke-width="1"/>
<rect x="543.60" y="311.80" width="3.2" height="3.2" fill="#000"/>
<line x1="585.30" y1="276.80" x2="585.30" y2="289.60" stroke="#000" stroke-width="1"/>
<line x1="583.80" y1="276.80" x2="586.80" y2="276.80" stroke="#000" stroke-width="1"/>
<line x1="583.80" y1="289.60" x2="586.80" y2="289.60" stroke="#000" stroke-width="1"/>
<rect x="583.70" y="281.60" width="3.2" height="3.2" fill="#000"/>
<line x1="666.90" y1="225.20" x2="666.90" y2="245.40" stroke="#000" stroke-width="1"/>
<line x1="665.40" y1="225.20" x2="668.40" y2="225.20" stroke="#000" stroke-width="1"/>
<line x1="665.40" y1="245.40" x2="668.40" y2="245.40" stroke="#000" stroke-width="1"/>
<rect x="665.30" y="233.70" width="3.2" height="3.2" fill="#000"/>
<defs><linearGradient id="cbar" x1="0" x2="1" y1="0" y2="0">
<stop offset="0" stop-color="#1c1c78"/><stop offset="0.12" stop-color="#2840a0"/><stop offset="0.25" stop-color="#30a0e0"/><stop offset="0.33" stop-color="#40c8e0"/><stop offset="0.45" stop-color="#a0d090"/><stop offset="0.58" stop-color="#f0e020"/><stop offset="0.7" stop-color="#f08020"/><stop offset="0.82" stop-color="#d82020"/><stop offset="1" stop-color="#701010"/></linearGradient>
<radialGradient id="c0" cx="45%" cy="40%" r="60%"><stop offset="0" stop-color="#24247a"/><stop offset="1" stop-color="#121050"/></radialGradient>
<linearGradient id="c1" x1="0" y1="0" x2="1" y2="1"><stop offset="0" stop-color="#68c4cc"/><stop offset="0.7" stop-color="#5cc0d8"/><stop offset="1" stop-color="#40b0e8"/></linearGradient>
<linearGradient id="c2" x1="0" y1="0" x2="1" y2="0"><stop offset="0" stop-color="#b8d048"/><stop offset="0.6" stop-color="#c4d840"/><stop offset="1" stop-color="#88c460"/></linearGradient>
<radialGradient id="c3" cx="40%" cy="30%" r="70%"><stop offset="0" stop-color="#f05028"/><stop offset="1" stop-color="#e02420"/></radialGradient>
<radialGradient id="c4" cx="45%" cy="40%" r="60%"><stop offset="0" stop-color="#881a18"/><stop offset="1" stop-color="#701010"/></radialGradient>
</defs>
<circle cx="507.40" cy="230.10" r="12.8" fill="url(#c0)" stroke="#bbb" stroke-width="0.5"/>
<circle cx="534.10" cy="230.10" r="12.8" fill="url(#c1)" stroke="#bbb" stroke-width="0.5"/>
<circle cx="560.60" cy="230.10" r="12.8" fill="url(#c2)" stroke="#bbb" stroke-width="0.5"/>
<circle cx="586.40" cy="230.10" r="12.8" fill="url(#c3)" stroke="#bbb" stroke-width="0.5"/>
<circle cx="613.30" cy="230.10" r="12.8" fill="url(#c4)" stroke="#bbb" stroke-width="0.5"/>
<rect x="494.5" y="243.6" width="131.7" height="4.4" fill="url(#cbar)"/>
<text x="0" y="0" font-size="8.6" font-weight="normal" text-anchor="middle" fill="#000" transform="translate(504.7 213.7)">0</text>
<text x="0" y="0" font-size="8.6" font-weight="normal" text-anchor="start" fill="#000" transform="translate(519.1 213.7)" textLength="23.8" lengthAdjust="spacingAndGlyphs">0.125</text>
<text x="0" y="0" font-size="8.6" font-weight="normal" text-anchor="start" fill="#000" transform="translate(547.8 213.7)" textLength="19.3" lengthAdjust="spacingAndGlyphs">0.25</text>
<text x="0" y="0" font-size="8.6" font-weight="normal" text-anchor="start" fill="#000" transform="translate(577.7 213.7)" textLength="14.5" lengthAdjust="spacingAndGlyphs">0.5</text>
<text x="0" y="0" font-size="8.6" font-weight="normal" text-anchor="start" fill="#000" transform="translate(608.9 213.7)" textLength="36.9" lengthAdjust="spacingAndGlyphs">1 mg/mL</text>
<text x="0" y="0" font-size="8.6" font-weight="normal" text-anchor="start" fill="#000" transform="translate(496.8 257.7)" textLength="14.4" lengthAdjust="spacingAndGlyphs">min</text>
<text x="0" y="0" font-size="8.6" font-weight="normal" text-anchor="start" fill="#000" transform="translate(602.8 257.7)" textLength="15.8" lengthAdjust="spacingAndGlyphs">max</text>
<text x="0" y="0" font-size="9.9" font-weight="bold" text-anchor="start" fill="#000" transform="translate(531.6 380.9) scale(1 1.1)" textLength="109.2" lengthAdjust="spacingAndGlyphs">Concentration (mg/mL)</text>
<text x="0" y="0" font-size="10.2" font-weight="bold" text-anchor="start" fill="#000" transform="translate(469.2 301.2) rotate(-90) scale(1 1.1)" textLength="40.5" lengthAdjust="spacingAndGlyphs">PA (a.u.)</text>
<text x="0" y="0" font-size="19.7" font-weight="bold" text-anchor="start" fill="#000" transform="translate(460.6 209.7)">f</text>
<rect x="30.2" y="387.5" width="194.0" height="155.10000000000002" fill="none" stroke="#1a1a1a" stroke-width="1.3"/>
<line x1="27.40" y1="536.50" x2="30.20" y2="536.50" stroke="#1a1a1a" stroke-width="1.1"/>
<text x="0" y="0" font-size="8.5" font-weight="bold" text-anchor="end" fill="#000" transform="translate(24.9 539.4) scale(1 1.1)">0</text>
<line x1="27.40" y1="476.70" x2="30.20" y2="476.70" stroke="#1a1a1a" stroke-width="1.1"/>
<text x="0" y="0" font-size="8.5" font-weight="bold" text-anchor="end" fill="#000" transform="translate(24.9 479.59999999999997) scale(1 1.1)">20</text>
<line x1="27.40" y1="416.90" x2="30.20" y2="416.90" stroke="#1a1a1a" stroke-width="1.1"/>
<text x="0" y="0" font-size="8.5" font-weight="bold" text-anchor="end" fill="#000" transform="translate(24.9 419.79999999999995) scale(1 1.1)">40</text>
<line x1="35.60" y1="542.60" x2="35.60" y2="545.40" stroke="#1a1a1a" stroke-width="1.1"/>
<text x="0" y="0" font-size="8.3" font-weight="bold" text-anchor="middle" fill="#000" transform="translate(35.6 554.7) scale(1 1.2)">0</text>
<line x1="67.69" y1="542.60" x2="67.69" y2="545.40" stroke="#1a1a1a" stroke-width="1.1"/>
<text x="0" y="0" font-size="8.3" font-weight="bold" text-anchor="middle" fill="#000" transform="translate(67.688 554.7) scale(1 1.2)">60</text>
<line x1="99.78" y1="542.60" x2="99.78" y2="545.40" stroke="#1a1a1a" stroke-width="1.1"/>
<text x="0" y="0" font-size="8.3" font-weight="bold" text-anchor="middle" fill="#000" transform="translate(99.77600000000001 554.7) scale(1 1.2)">120</text>
<line x1="131.86" y1="542.60" x2="131.86" y2="545.40" stroke="#1a1a1a" stroke-width="1.1"/>
<text x="0" y="0" font-size="8.3" font-weight="bold" text-anchor="middle" fill="#000" transform="translate(131.864 554.7) scale(1 1.2)">180</text>
<line x1="163.95" y1="542.60" x2="163.95" y2="545.40" stroke="#1a1a1a" stroke-width="1.1"/>
<text x="0" y="0" font-size="8.3" font-weight="bold" text-anchor="middle" fill="#000" transform="translate(163.952 554.7) scale(1 1.2)">240</text>
<line x1="196.04" y1="542.60" x2="196.04" y2="545.40" stroke="#1a1a1a" stroke-width="1.1"/>
<text x="0" y="0" font-size="8.3" font-weight="bold" text-anchor="middle" fill="#000" transform="translate(196.04000000000002 554.7) scale(1 1.2)">300</text>
<polyline points="35.60,536.50 46.30,536.20 56.99,535.44 67.69,534.99 78.38,534.99 89.08,534.54 99.78,534.39 110.47,533.94 121.17,534.09 131.86,534.09 142.56,533.94 153.26,533.94 163.95,533.79 174.65,533.94 185.34,533.94 196.04,533.94" fill="none" stroke="#000" stroke-width="1.5" stroke-linejoin="round"/>
<rect x="33.65" y="534.54" width="3.9099999999999997" height="3.9099999999999997" fill="#000"/>
<rect x="44.34" y="534.24" width="3.9099999999999997" height="3.9099999999999997" fill="#000"/>
<rect x="55.04" y="533.49" width="3.9099999999999997" height="3.9099999999999997" fill="#000"/>
<rect x="65.73" y="533.04" width="3.9099999999999997" height="3.9099999999999997" fill="#000"/>
<rect x="76.43" y="533.04" width="3.9099999999999997" height="3.9099999999999997" fill="#000"/>
<rect x="87.13" y="532.59" width="3.9099999999999997" height="3.9099999999999997" fill="#000"/>
<rect x="97.82" y="532.43" width="3.9099999999999997" height="3.9099999999999997" fill="#000"/>
<rect x="108.52" y="531.98" width="3.9099999999999997" height="3.9099999999999997" fill="#000"/>
<rect x="119.21" y="532.13" width="3.9099999999999997" height="3.9099999999999997" fill="#000"/>
<rect x="129.91" y="532.13" width="3.9099999999999997" height="3.9099999999999997" fill="#000"/>
<rect x="140.60" y="531.98" width="3.9099999999999997" height="3.9099999999999997" fill="#000"/>
<rect x="151.30" y="531.98" width="3.9099999999999997" height="3.9099999999999997" fill="#000"/>
<rect x="162.00" y="531.83" width="3.9099999999999997" height="3.9099999999999997" fill="#000"/>
<rect x="172.69" y="531.98" width="3.9099999999999997" height="3.9099999999999997" fill="#000"/>
<rect x="183.39" y="531.98" width="3.9099999999999997" height="3.9099999999999997" fill="#000"/>
<rect x="194.09" y="531.98" width="3.9099999999999997" height="3.9099999999999997" fill="#000"/>
<polyline points="35.60,536.50 46.30,521.42 56.99,500.32 67.69,484.64 78.38,471.07 89.08,460.22 99.78,451.47 110.47,443.03 121.17,435.49 131.86,430.37 142.56,425.85 153.26,423.73 163.95,418.61 174.65,416.50 185.34,414.69 196.04,414.99" fill="none" stroke="#ff2020" stroke-width="1.5" stroke-linejoin="round"/>
<circle cx="35.60" cy="536.50" r="2.3" fill="#ff2020"/>
<circle cx="46.30" cy="521.42" r="2.3" fill="#ff2020"/>
<circle cx="56.99" cy="500.32" r="2.3" fill="#ff2020"/>
<circle cx="67.69" cy="484.64" r="2.3" fill="#ff2020"/>
<circle cx="78.38" cy="471.07" r="2.3" fill="#ff2020"/>
<circle cx="89.08" cy="460.22" r="2.3" fill="#ff2020"/>
<circle cx="99.78" cy="451.47" r="2.3" fill="#ff2020"/>
<circle cx="110.47" cy="443.03" r="2.3" fill="#ff2020"/>
<circle cx="121.17" cy="435.49" r="2.3" fill="#ff2020"/>
<circle cx="131.86" cy="430.37" r="2.3" fill="#ff2020"/>
<circle cx="142.56" cy="425.85" r="2.3" fill="#ff2020"/>
<circle cx="153.26" cy="423.73" r="2.3" fill="#ff2020"/>
<circle cx="163.95" cy="418.61" r="2.3" fill="#ff2020"/>
<circle cx="174.65" cy="416.50" r="2.3" fill="#ff2020"/>
<circle cx="185.34" cy="414.69" r="2.3" fill="#ff2020"/>
<circle cx="196.04" cy="414.99" r="2.3" fill="#ff2020"/>
<polyline points="35.60,536.50 46.30,524.74 56.99,512.98 67.69,500.02 78.38,488.26 89.08,478.91 99.78,471.98 110.47,466.25 121.17,460.82 131.86,456.00 142.56,452.68 153.26,449.97 163.95,446.95 174.65,445.44 185.34,443.94 196.04,442.43" fill="none" stroke="#2020ff" stroke-width="1.5" stroke-linejoin="round"/>
<polygon points="33.19,538.67 38.02,538.67 35.60,534.33" fill="#2020ff"/>
<polygon points="43.88,526.91 48.71,526.91 46.30,522.57" fill="#2020ff"/>
<polygon points="54.58,515.16 59.41,515.16 56.99,510.81" fill="#2020ff"/>
<polygon points="65.27,502.19 70.10,502.19 67.69,497.84" fill="#2020ff"/>
<polygon points="75.97,490.43 80.80,490.43 78.38,486.08" fill="#2020ff"/>
<polygon points="86.67,481.08 91.50,481.08 89.08,476.74" fill="#2020ff"/>
<polygon points="97.36,474.15 102.19,474.15 99.78,469.80" fill="#2020ff"/>
<polygon points="108.06,468.42 112.89,468.42 110.47,464.07" fill="#2020ff"/>
<polygon points="118.75,462.99 123.58,462.99 121.17,458.65" fill="#2020ff"/>
<polygon points="129.45,458.17 134.28,458.17 131.86,453.82" fill="#2020ff"/>
<polygon points="140.15,454.85 144.97,454.85 142.56,450.51" fill="#2020ff"/>
<polygon points="150.84,452.14 155.67,452.14 153.26,447.79" fill="#2020ff"/>
<polygon points="161.54,449.12 166.37,449.12 163.95,444.78" fill="#2020ff"/>
<polygon points="172.23,447.62 177.06,447.62 174.65,443.27" fill="#2020ff"/>
<polygon points="182.93,446.11 187.76,446.11 185.34,441.76" fill="#2020ff"/>
<polygon points="193.63,444.60 198.46,444.60 196.04,440.25" fill="#2020ff"/>
<polyline points="35.60,536.50 46.30,526.55 56.99,519.62 67.69,512.08 78.38,505.44 89.08,500.02 99.78,494.29 110.47,490.07 121.17,485.54 131.86,482.83 142.56,479.82 153.26,476.50 163.95,473.79 174.65,471.98 185.34,469.56 196.04,469.26" fill="none" stroke="#1a9090" stroke-width="1.5" stroke-linejoin="round"/>
<polygon points="33.19,534.33 38.02,534.33 35.60,538.67" fill="#1a9090"/>
<polygon points="43.88,524.38 48.71,524.38 46.30,528.72" fill="#1a9090"/>
<polygon points="54.58,517.44 59.41,517.44 56.99,521.79" fill="#1a9090"/>
<polygon points="65.27,509.90 70.10,509.90 67.69,514.25" fill="#1a9090"/>
<polygon points="75.97,503.27 80.80,503.27 78.38,507.62" fill="#1a9090"/>
<polygon points="86.67,497.84 91.50,497.84 89.08,502.19" fill="#1a9090"/>
<polygon points="97.36,492.11 102.19,492.11 99.78,496.46" fill="#1a9090"/>
<polygon points="108.06,487.89 112.89,487.89 110.47,492.24" fill="#1a9090"/>
<polygon points="118.75,483.37 123.58,483.37 121.17,487.72" fill="#1a9090"/>
<polygon points="129.45,480.66 134.28,480.66 131.86,485.00" fill="#1a9090"/>
<polygon points="140.15,477.64 144.97,477.64 142.56,481.99" fill="#1a9090"/>
<polygon points="150.84,474.33 155.67,474.33 153.26,478.67" fill="#1a9090"/>
<polygon points="161.54,471.61 166.37,471.61 163.95,475.96" fill="#1a9090"/>
<polygon points="172.23,469.80 177.06,469.80 174.65,474.15" fill="#1a9090"/>
<polygon points="182.93,467.39 187.76,467.39 185.34,471.74" fill="#1a9090"/>
<polygon points="193.63,467.09 198.46,467.09 196.04,471.44" fill="#1a9090"/>
<polyline points="35.60,536.50 46.30,528.06 56.99,523.84 67.69,519.01 78.38,514.49 89.08,511.17 99.78,506.95 110.47,504.54 121.17,502.13 131.86,499.72 142.56,498.21 153.26,496.40 163.95,494.89 174.65,494.29 185.34,492.48 196.04,490.97" fill="none" stroke="#ff20ff" stroke-width="1.5" stroke-linejoin="round"/>
<polygon points="37.77,534.09 37.77,538.91 33.43,536.50" fill="#ff20ff"/>
<polygon points="48.47,525.64 48.47,530.47 44.12,528.06" fill="#ff20ff"/>
<polygon points="59.17,521.42 59.17,526.25 54.82,523.84" fill="#ff20ff"/>
<polygon points="69.86,516.60 69.86,521.43 65.51,519.01" fill="#ff20ff"/>
<polygon points="80.56,512.07 80.56,516.90 76.21,514.49" fill="#ff20ff"/>
<polygon points="91.25,508.76 91.25,513.59 86.91,511.17" fill="#ff20ff"/>
<polygon points="101.95,504.54 101.95,509.37 97.60,506.95" fill="#ff20ff"/>
<polygon points="112.65,502.12 112.65,506.95 108.30,504.54" fill="#ff20ff"/>
<polygon points="123.34,499.71 123.34,504.54 118.99,502.13" fill="#ff20ff"/>
<polygon points="134.04,497.30 134.04,502.13 129.69,499.72" fill="#ff20ff"/>
<polygon points="144.73,495.79 144.73,500.62 140.39,498.21" fill="#ff20ff"/>
<polygon points="155.43,493.98 155.43,498.81 151.08,496.40" fill="#ff20ff"/>
<polygon points="166.13,492.48 166.13,497.31 161.78,494.89" fill="#ff20ff"/>
<polygon points="176.82,491.87 176.82,496.70 172.47,494.29" fill="#ff20ff"/>
<polygon points="187.52,490.06 187.52,494.89 183.17,492.48" fill="#ff20ff"/>
<polygon points="198.21,488.56 198.21,493.39 193.87,490.97" fill="#ff20ff"/>
<polyline points="35.60,536.50 46.30,530.47 56.99,528.06 67.69,525.65 78.38,522.33 89.08,520.52 99.78,518.71 110.47,516.60 121.17,515.39 131.86,513.89 142.56,512.98 153.26,512.08 163.95,511.17 174.65,510.57 185.34,509.67 196.04,509.36" fill="none" stroke="#8a8a18" stroke-width="1.5" stroke-linejoin="round"/>
<polygon points="33.43,534.09 33.43,538.91 37.77,536.50" fill="#8a8a18"/>
<polygon points="44.12,528.05 44.12,532.88 48.47,530.47" fill="#8a8a18"/>
<polygon points="54.82,525.64 54.82,530.47 59.17,528.06" fill="#8a8a18"/>
<polygon points="65.51,523.23 65.51,528.06 69.86,525.65" fill="#8a8a18"/>
<polygon points="76.21,519.91 76.21,524.74 80.56,522.33" fill="#8a8a18"/>
<polygon points="86.91,518.10 86.91,522.93 91.25,520.52" fill="#8a8a18"/>
<polygon points="97.60,516.30 97.60,521.13 101.95,518.71" fill="#8a8a18"/>
<polygon points="108.30,514.19 108.30,519.02 112.65,516.60" fill="#8a8a18"/>
<polygon points="118.99,512.98 118.99,517.81 123.34,515.39" fill="#8a8a18"/>
<polygon points="129.69,511.47 129.69,516.30 134.04,513.89" fill="#8a8a18"/>
<polygon points="140.39,510.57 140.39,515.40 144.73,512.98" fill="#8a8a18"/>
<polygon points="151.08,509.66 151.08,514.49 155.43,512.08" fill="#8a8a18"/>
<polygon points="161.78,508.76 161.78,513.59 166.13,511.17" fill="#8a8a18"/>
<polygon points="172.47,508.16 172.47,512.99 176.82,510.57" fill="#8a8a18"/>
<polygon points="183.17,507.25 183.17,512.08 187.52,509.67" fill="#8a8a18"/>
<polygon points="193.87,506.95 193.87,511.78 198.21,509.36" fill="#8a8a18"/>
<polyline points="35.60,536.50 46.30,534.39 56.99,532.28 67.69,531.68 78.38,529.87 89.08,528.96 99.78,527.15 110.47,526.55 121.17,525.65 131.86,524.74 142.56,524.14 153.26,523.84 163.95,523.54 174.65,523.23 185.34,522.93 196.04,522.93" fill="none" stroke="#101090" stroke-width="1.5" stroke-linejoin="round"/>
<polygon points="35.60,533.97 38.13,536.50 35.60,539.03 33.07,536.50" fill="#101090"/>
<polygon points="46.30,531.86 48.83,534.39 46.30,536.92 43.77,534.39" fill="#101090"/>
<polygon points="56.99,529.75 59.52,532.28 56.99,534.81 54.46,532.28" fill="#101090"/>
<polygon points="67.69,529.15 70.22,531.68 67.69,534.21 65.16,531.68" fill="#101090"/>
<polygon points="78.38,527.34 80.91,529.87 78.38,532.40 75.85,529.87" fill="#101090"/>
<polygon points="89.08,526.43 91.61,528.96 89.08,531.49 86.55,528.96" fill="#101090"/>
<polygon points="99.78,524.62 102.31,527.15 99.78,529.68 97.25,527.15" fill="#101090"/>
<polygon points="110.47,524.02 113.00,526.55 110.47,529.08 107.94,526.55" fill="#101090"/>
<polygon points="121.17,523.12 123.70,525.65 121.17,528.18 118.64,525.65" fill="#101090"/>
<polygon points="131.86,522.21 134.39,524.74 131.86,527.27 129.33,524.74" fill="#101090"/>
<polygon points="142.56,521.61 145.09,524.14 142.56,526.67 140.03,524.14" fill="#101090"/>
<polygon points="153.26,521.31 155.79,523.84 153.26,526.37 150.73,523.84" fill="#101090"/>
<polygon points="163.95,521.01 166.48,523.54 163.95,526.07 161.42,523.54" fill="#101090"/>
<polygon points="174.65,520.70 177.18,523.23 174.65,525.76 172.12,523.23" fill="#101090"/>
<polygon points="185.34,520.40 187.87,522.93 185.34,525.46 182.81,522.93" fill="#101090"/>
<polygon points="196.04,520.40 198.57,522.93 196.04,525.46 193.51,522.93" fill="#101090"/>
<line x1="34.30" y1="394.70" x2="47.80" y2="394.70" stroke="#ff2020" stroke-width="1.2"/>
<circle cx="41.05" cy="394.70" r="2.0" fill="#ff2020"/>
<text x="0" y="0" font-size="8.5" font-weight="bold" text-anchor="start" fill="#000" transform="translate(51 397.7) scale(1 1.1)">1</text>
<line x1="73.50" y1="394.70" x2="86.50" y2="394.70" stroke="#2020ff" stroke-width="1.2"/>
<polygon points="77.90,396.59 82.10,396.59 80.00,392.81" fill="#2020ff"/>
<text x="0" y="0" font-size="8.5" font-weight="bold" text-anchor="start" fill="#000" transform="translate(89.3 397.7) scale(1 1.1)">0.5</text>
<line x1="110.00" y1="394.70" x2="123.20" y2="394.70" stroke="#1a9090" stroke-width="1.2"/>
<polygon points="114.50,392.81 118.70,392.81 116.60,396.59" fill="#1a9090"/>
<text x="0" y="0" font-size="8.5" font-weight="bold" text-anchor="start" fill="#000" transform="translate(126.2 397.7) scale(1 1.1)">0.25</text>
<line x1="150.00" y1="394.70" x2="163.60" y2="394.70" stroke="#ff20ff" stroke-width="1.2"/>
<polygon points="158.69,392.60 158.69,396.80 154.91,394.70" fill="#ff20ff"/>
<text x="0" y="0" font-size="8.5" font-weight="bold" text-anchor="start" fill="#000" transform="translate(165.9 397.7) scale(1 1.1)">0.12</text>
<line x1="34.30" y1="405.20" x2="47.80" y2="405.20" stroke="#8a8a18" stroke-width="1.2"/>
<polygon points="39.16,403.10 39.16,407.30 42.94,405.20" fill="#8a8a18"/>
<text x="0" y="0" font-size="8.5" font-weight="bold" text-anchor="start" fill="#000" transform="translate(51 408.2) scale(1 1.1)">0.06</text>
<line x1="73.50" y1="405.20" x2="86.50" y2="405.20" stroke="#101090" stroke-width="1.2"/>
<polygon points="80.00,403.00 82.20,405.20 80.00,407.40 77.80,405.20" fill="#101090"/>
<text x="0" y="0" font-size="8.5" font-weight="bold" text-anchor="start" fill="#000" transform="translate(89.3 408.2) scale(1 1.1)">0.03</text>
<line x1="110.00" y1="405.20" x2="123.20" y2="405.20" stroke="#000" stroke-width="1.2"/>
<rect x="114.90" y="403.50" width="3.4" height="3.4" fill="#000"/>
<text x="0" y="0" font-size="8.5" font-weight="bold" text-anchor="start" fill="#000" transform="translate(126.2 408.2) scale(1 1.1)">0 mg/mL</text>
<defs><linearGradient id="tbar" x1="0" x2="0" y1="0" y2="1">
<stop offset="0" stop-color="#ffffe0"/><stop offset="0.12" stop-color="#f8e040"/><stop offset="0.25" stop-color="#f09020"/><stop offset="0.35" stop-color="#d82010"/><stop offset="0.45" stop-color="#601010"/><stop offset="0.55" stop-color="#206030"/><stop offset="0.65" stop-color="#20b0a0"/><stop offset="0.72" stop-color="#30d0f0"/><stop offset="0.8" stop-color="#2070f0"/><stop offset="0.9" stop-color="#1010a0"/><stop offset="1" stop-color="#000010"/></linearGradient></defs>
<linearGradient id="tg0" x1="0" y1="0" x2="0" y2="1"><stop offset="0.00" stop-color="#ffffc8"/><stop offset="0.33" stop-color="#ffe040"/><stop offset="0.67" stop-color="#f07820"/><stop offset="1.00" stop-color="#50a070"/></linearGradient>
<rect x="202.4" y="401.7" width="10" height="18.1" fill="#14104a" stroke="#c8c8d0" stroke-width="0.5"/>
<rect x="203.3" y="402.9" width="8.2" height="2.4" fill="#40c0f0"/>
<path d="M203.4,404.9 L211.4,404.9 L210.2,416.3 Q207.4,419.0 204.6,416.3 Z" fill="url(#tg0)"/>
<linearGradient id="tg1" x1="0" y1="0" x2="0" y2="1"><stop offset="0.00" stop-color="#e02818"/><stop offset="0.33" stop-color="#c01010"/><stop offset="0.67" stop-color="#802010"/><stop offset="1.00" stop-color="#20806a"/></linearGradient>
<rect x="202.4" y="421" width="10" height="18.1" fill="#14104a" stroke="#c8c8d0" stroke-width="0.5"/>
<rect x="203.3" y="422.2" width="8.2" height="2.4" fill="#30b8f0"/>
<path d="M203.4,424.2 L211.4,424.2 L210.2,435.6 Q207.4,438.3 204.6,435.6 Z" fill="url(#tg1)"/>
<linearGradient id="tg2" x1="0" y1="0" x2="0" y2="1"><stop offset="0.00" stop-color="#30b090"/><stop offset="0.33" stop-color="#20907a"/><stop offset="0.67" stop-color="#20806a"/><stop offset="1.00" stop-color="#206a60"/></linearGradient>
<rect x="202.4" y="441.8" width="10" height="17.6" fill="#14104a" stroke="#c8c8d0" stroke-width="0.5"/>
<rect x="203.3" y="443.0" width="8.2" height="2.4" fill="#30c0f0"/>
<path d="M203.4,445.0 L211.4,445.0 L210.2,455.9 Q207.4,458.6 204.6,455.9 Z" fill="url(#tg2)"/>
<linearGradient id="tg3" x1="0" y1="0" x2="0" y2="1"><stop offset="0.00" stop-color="#50e0ff"/><stop offset="0.33" stop-color="#30c8ff"/><stop offset="0.67" stop-color="#20a8f0"/><stop offset="1.00" stop-color="#2080e0"/></linearGradient>
<rect x="202.4" y="461.1" width="10" height="18.5" fill="#14104a" stroke="#c8c8d0" stroke-width="0.5"/>
<rect x="203.3" y="462.3" width="8.2" height="2.4" fill="#2050e0"/>
<path d="M203.4,464.3 L211.4,464.3 L210.2,476.1 Q207.4,478.8 204.6,476.1 Z" fill="url(#tg3)"/>
<linearGradient id="tg4" x1="0" y1="0" x2="0" y2="1"><stop offset="0.00" stop-color="#2a78ff"/><stop offset="0.33" stop-color="#2060f0"/><stop offset="0.67" stop-color="#1848d0"/><stop offset="1.00" stop-color="#1838b0"/></linearGradient>
<rect x="202.4" y="482.4" width="10" height="17.3" fill="#14104a" stroke="#c8c8d0" stroke-width="0.5"/>
<rect x="203.3" y="483.6" width="8.2" height="2.4" fill="#3020a0"/>
<path d="M203.4,485.6 L211.4,485.6 L210.2,496.2 Q207.4,498.9 204.6,496.2 Z" fill="url(#tg4)"/>
<linearGradient id="tg5" x1="0" y1="0" x2="0" y2="1"><stop offset="0.00" stop-color="#4a32b0"/><stop offset="0.33" stop-color="#4030a0"/><stop offset="0.67" stop-color="#382890"/><stop offset="1.00" stop-color="#302080"/></linearGradient>
<rect x="202.4" y="502.4" width="10" height="17.4" fill="#14104a" stroke="#c8c8d0" stroke-width="0.5"/>
<rect x="203.3" y="503.6" width="8.2" height="2.4" fill="#2a1880"/>
<path d="M203.4,505.6 L211.4,505.6 L210.2,516.3 Q207.4,519.0 204.6,516.3 Z" fill="url(#tg5)"/>
<linearGradient id="tg6" x1="0" y1="0" x2="0" y2="1"><stop offset="0.00" stop-color="#30207e"/><stop offset="0.33" stop-color="#2c1c76"/><stop offset="0.67" stop-color="#28186e"/><stop offset="1.00" stop-color="#241468"/></linearGradient>
<rect x="202.4" y="522" width="10" height="17.9" fill="#14104a" stroke="#c8c8d0" stroke-width="0.5"/>
<rect x="203.3" y="523.2" width="8.2" height="2.4" fill="#221460"/>
<path d="M203.4,525.2 L211.4,525.2 L210.2,536.4 Q207.4,539.1 204.6,536.4 Z" fill="url(#tg6)"/>
<rect x="215.5" y="411.3" width="4.5" height="109.5" fill="url(#tbar)" stroke="#222" stroke-width="0.6"/>
<text x="0" y="0" font-size="7.5" font-weight="bold" text-anchor="start" fill="#000" transform="translate(212.6 409.3) scale(1 1.1)" textLength="9" lengthAdjust="spacingAndGlyphs">65</text>
<text x="0" y="0" font-size="7.5" font-weight="bold" text-anchor="start" fill="#000" transform="translate(213.5 529.3) scale(1 1.1)" textLength="8.5" lengthAdjust="spacingAndGlyphs">20</text>
<text x="0" y="0" font-size="7.5" font-weight="bold" text-anchor="start" fill="#000" transform="translate(212.2 539) scale(1 1.1)" textLength="9.5" lengthAdjust="spacingAndGlyphs">°C</text>
<text x="0" y="0" font-size="10" font-weight="bold" text-anchor="start" fill="#000" transform="translate(108.3 566) scale(1 1.1)" textLength="38" lengthAdjust="spacingAndGlyphs">Time (s)</text>
<text x="0" y="0" font-size="10" font-weight="bold" text-anchor="start" fill="#000" transform="translate(11.9 482.2) rotate(-90) scale(1 1.1)" textLength="33.8" lengthAdjust="spacingAndGlyphs">ΔT (°C)</text>
<text x="0" y="0" font-size="19" font-weight="bold" text-anchor="start" fill="#000" transform="translate(-0.8 390.8)">g</text>
<rect x="259" y="387" width="194.89999999999998" height="155" fill="none" stroke="#1a1a1a" stroke-width="1.3"/>
<line x1="256.20" y1="539.50" x2="259.00" y2="539.50" stroke="#1a1a1a" stroke-width="1.1"/>
<text x="0" y="0" font-size="9.3" font-weight="bold" text-anchor="end" fill="#000" transform="translate(253.5 542.8) scale(1 1.18)">0</text>
<line x1="256.20" y1="507.10" x2="259.00" y2="507.10" stroke="#1a1a1a" stroke-width="1.1"/>
<text x="0" y="0" font-size="9.3" font-weight="bold" text-anchor="end" fill="#000" transform="translate(253.5 510.40000000000003) scale(1 1.18)">5</text>
<line x1="256.20" y1="474.70" x2="259.00" y2="474.70" stroke="#1a1a1a" stroke-width="1.1"/>
<text x="0" y="0" font-size="9.3" font-weight="bold" text-anchor="end" fill="#000" transform="translate(253.5 478.0) scale(1 1.18)">10</text>
<line x1="256.20" y1="442.30" x2="259.00" y2="442.30" stroke="#1a1a1a" stroke-width="1.1"/>
<text x="0" y="0" font-size="9.3" font-weight="bold" text-anchor="end" fill="#000" transform="translate(253.5 445.6) scale(1 1.18)">15</text>
<line x1="256.20" y1="409.90" x2="259.00" y2="409.90" stroke="#1a1a1a" stroke-width="1.1"/>
<text x="0" y="0" font-size="9.3" font-weight="bold" text-anchor="end" fill="#000" transform="translate(253.5 413.2) scale(1 1.18)">20</text>
<line x1="262.80" y1="542.00" x2="262.80" y2="544.80" stroke="#1a1a1a" stroke-width="1.1"/>
<text x="0" y="0" font-size="8.8" font-weight="bold" text-anchor="middle" fill="#000" transform="translate(262.8 555.4) scale(1 1.18)">0</text>
<line x1="293.88" y1="542.00" x2="293.88" y2="544.80" stroke="#1a1a1a" stroke-width="1.1"/>
<text x="0" y="0" font-size="8.8" font-weight="bold" text-anchor="middle" fill="#000" transform="translate(293.88 555.4) scale(1 1.18)">4</text>
<line x1="324.96" y1="542.00" x2="324.96" y2="544.80" stroke="#1a1a1a" stroke-width="1.1"/>
<text x="0" y="0" font-size="8.8" font-weight="bold" text-anchor="middle" fill="#000" transform="translate(324.96000000000004 555.4) scale(1 1.18)">8</text>
<line x1="356.04" y1="542.00" x2="356.04" y2="544.80" stroke="#1a1a1a" stroke-width="1.1"/>
<text x="0" y="0" font-size="8.8" font-weight="bold" text-anchor="middle" fill="#000" transform="translate(356.04 555.4) scale(1 1.18)">12</text>
<line x1="387.12" y1="542.00" x2="387.12" y2="544.80" stroke="#1a1a1a" stroke-width="1.1"/>
<text x="0" y="0" font-size="8.8" font-weight="bold" text-anchor="middle" fill="#000" transform="translate(387.12 555.4) scale(1 1.18)">16</text>
<line x1="418.20" y1="542.00" x2="418.20" y2="544.80" stroke="#1a1a1a" stroke-width="1.1"/>
<text x="0" y="0" font-size="8.8" font-weight="bold" text-anchor="middle" fill="#000" transform="translate(418.2 555.4) scale(1 1.18)">20</text>
<line x1="449.28" y1="542.00" x2="449.28" y2="544.80" stroke="#1a1a1a" stroke-width="1.1"/>
<text x="0" y="0" font-size="8.8" font-weight="bold" text-anchor="middle" fill="#000" transform="translate(449.28 555.4) scale(1 1.18)">24</text>
<path d="M341.56,471.10 L341.71,470.08 L341.74,469.24 L341.57,468.71 L341.14,468.55 L340.47,468.75 L339.63,469.19 L338.73,469.74 L337.88,470.19 L337.20,470.40 L336.76,470.26 L336.58,469.74 L336.60,468.91 L336.75,467.90 L336.90,466.88 L336.94,466.03 L336.77,465.48 L336.35,465.31 L335.69,465.49 L334.86,465.93 L333.96,466.47 L333.11,466.93 L332.42,467.16 L331.97,467.03 L331.77,466.53 L331.79,465.71 L331.93,464.70 L332.09,463.68 L332.13,462.82 L331.98,462.25 L331.57,462.06" fill="none" stroke="#7a5cb4" stroke-width="1.2" stroke-linecap="round" stroke-linejoin="round"/>
<path d="M363.62,461.73 L364.62,461.40 L365.41,461.03 L365.84,460.59 L365.82,460.07 L365.38,459.49 L364.64,458.84 L363.78,458.18 L363.03,457.54 L362.58,456.94 L362.54,456.43 L362.94,455.99 L363.72,455.61 L364.72,455.28 L365.72,454.94 L366.53,454.57 L366.97,454.14 L366.97,453.63 L366.54,453.04 L365.81,452.40 L364.96,451.74 L364.20,451.09 L363.73,450.50 L363.67,449.97 L364.06,449.53 L364.82,449.15 L365.81,448.82 L366.82,448.48 L367.64,448.11 L368.10,447.68 L368.12,447.18" fill="none" stroke="#7a5cb4" stroke-width="1.2" stroke-linecap="round" stroke-linejoin="round"/>
<path d="M373.04,465.83 L374.08,465.99 L374.95,466.02 L375.52,465.83 L375.73,465.37 L375.60,464.65 L375.23,463.75 L374.77,462.78 L374.39,461.87 L374.25,461.14 L374.44,460.66 L375.00,460.46 L375.86,460.49 L376.89,460.65 L377.94,460.81 L378.82,460.85 L379.41,460.67 L379.63,460.22 L379.52,459.51 L379.15,458.61 L378.69,457.64 L378.30,456.73 L378.15,455.99 L378.33,455.50 L378.87,455.29 L379.72,455.31 L380.75,455.46 L381.80,455.63 L382.69,455.68 L383.29,455.51 L383.53,455.07" fill="none" stroke="#7a5cb4" stroke-width="1.2" stroke-linecap="round" stroke-linejoin="round"/>
<path d="M379.57,473.76 L380.39,474.39 L381.11,474.83 L381.67,474.94 L382.03,474.64 L382.20,473.96 L382.24,473.01 L382.23,471.95 L382.27,470.99 L382.44,470.29 L382.79,469.98 L383.34,470.07 L384.05,470.50 L384.87,471.13 L385.68,471.77 L386.41,472.22 L386.98,472.35 L387.35,472.07 L387.53,471.40 L387.57,470.45 L387.56,469.40 L387.59,468.43 L387.75,467.71 L388.10,467.38 L388.64,467.46 L389.35,467.88 L390.16,468.50 L390.98,469.14 L391.71,469.61 L392.29,469.75 L392.66,469.49" fill="none" stroke="#7a5cb4" stroke-width="1.2" stroke-linecap="round" stroke-linejoin="round"/>
<path d="M381.05,489.09 L381.27,490.11 L381.54,490.93 L381.91,491.38 L382.40,491.40 L383.00,491.00 L383.67,490.31 L384.38,489.51 L385.06,488.81 L385.66,488.40 L386.15,488.40 L386.52,488.84 L386.80,489.64 L387.02,490.65 L387.24,491.67 L387.51,492.50 L387.87,492.97 L388.36,493.01 L388.95,492.63 L389.62,491.95 L390.33,491.15 L391.01,490.44 L391.61,490.02 L392.11,489.99 L392.49,490.41 L392.77,491.20 L392.99,492.21 L393.21,493.23 L393.47,494.07 L393.83,494.56 L394.31,494.62" fill="none" stroke="#7a5cb4" stroke-width="1.2" stroke-linecap="round" stroke-linejoin="round"/>
<path d="M378.66,494.73 L378.58,495.77 L378.62,496.62 L378.85,497.16 L379.31,497.31 L379.99,497.09 L380.82,496.61 L381.72,496.04 L382.56,495.55 L383.25,495.32 L383.72,495.45 L383.95,495.97 L384.00,496.81 L383.93,497.85 L383.85,498.89 L383.88,499.75 L384.10,500.31 L384.55,500.47 L385.22,500.27 L386.05,499.80 L386.94,499.22 L387.79,498.73 L388.49,498.48 L388.97,498.60 L389.21,499.10 L389.26,499.94 L389.19,500.96 L389.11,502.01 L389.14,502.89 L389.34,503.45 L389.78,503.64" fill="none" stroke="#7a5cb4" stroke-width="1.2" stroke-linecap="round" stroke-linejoin="round"/>
<path d="M365.49,504.65 L364.73,505.36 L364.16,506.02 L363.96,506.58 L364.19,507.02 L364.83,507.35 L365.77,507.61 L366.82,507.83 L367.77,508.08 L368.43,508.41 L368.68,508.85 L368.49,509.40 L367.94,510.05 L367.18,510.76 L366.40,511.47 L365.82,512.13 L365.60,512.70 L365.82,513.15 L366.44,513.48 L367.37,513.74 L368.42,513.96 L369.38,514.21 L370.05,514.54 L370.32,514.97 L370.15,515.52 L369.62,516.17 L368.86,516.88 L368.08,517.59 L367.49,518.25 L367.25,518.82 L367.44,519.27" fill="none" stroke="#7a5cb4" stroke-width="1.2" stroke-linecap="round" stroke-linejoin="round"/>
<path d="M353.00,504.32 L351.97,504.51 L351.13,504.77 L350.65,505.13 L350.60,505.64 L350.96,506.28 L351.60,507.02 L352.36,507.79 L353.01,508.52 L353.38,509.17 L353.35,509.68 L352.89,510.06 L352.07,510.32 L351.04,510.51 L350.00,510.69 L349.15,510.94 L348.65,511.31 L348.58,511.81 L348.92,512.44 L349.56,513.18 L350.31,513.94 L350.98,514.68 L351.36,515.33 L351.35,515.86 L350.91,516.24 L350.10,516.50 L349.07,516.69 L348.03,516.88 L347.17,517.12 L346.65,517.48 L346.57,517.97" fill="none" stroke="#7a5cb4" stroke-width="1.2" stroke-linecap="round" stroke-linejoin="round"/>
<path d="M341.78,496.02 L340.89,495.51 L340.11,495.18 L339.56,495.15 L339.26,495.50 L339.20,496.19 L339.33,497.13 L339.51,498.16 L339.64,499.11 L339.59,499.82 L339.31,500.18 L338.76,500.17 L337.99,499.84 L337.10,499.34 L336.21,498.83 L335.43,498.49 L334.86,498.45 L334.55,498.77 L334.49,499.45 L334.60,500.39 L334.79,501.42 L334.92,502.38 L334.89,503.10 L334.61,503.47 L334.07,503.47 L333.32,503.16 L332.43,502.67 L331.53,502.15 L330.75,501.80 L330.17,501.74 L329.85,502.05" fill="none" stroke="#7a5cb4" stroke-width="1.2" stroke-linecap="round" stroke-linejoin="round"/>
<path d="M338.28,487.97 L337.66,487.16 L337.09,486.55 L336.59,486.30 L336.19,486.50 L335.87,487.12 L335.62,488.03 L335.39,489.05 L335.14,489.98 L334.83,490.61 L334.43,490.83 L333.94,490.60 L333.37,490.00 L332.75,489.19 L332.13,488.37 L331.55,487.75 L331.05,487.49 L330.64,487.67 L330.32,488.27 L330.07,489.17 L329.84,490.19 L329.60,491.12 L329.29,491.77 L328.89,492.01 L328.40,491.80 L327.83,491.22 L327.22,490.41 L326.60,489.59 L326.02,488.95 L325.51,488.67 L325.10,488.83" fill="none" stroke="#7a5cb4" stroke-width="1.2" stroke-linecap="round" stroke-linejoin="round"/>
<path d="M338.45,478.08 L338.19,477.06 L337.87,476.24 L337.47,475.79 L336.95,475.77 L336.34,476.17 L335.65,476.87 L334.93,477.67 L334.23,478.37 L333.61,478.79 L333.09,478.79 L332.68,478.36 L332.36,477.55 L332.10,476.54 L331.84,475.51 L331.52,474.68 L331.12,474.21 L330.61,474.18 L330.00,474.56 L329.31,475.24 L328.59,476.05 L327.90,476.76 L327.27,477.19 L326.75,477.21 L326.33,476.80 L326.01,476.01 L325.74,475.00 L325.48,473.97 L325.17,473.12 L324.78,472.64 L324.27,472.58" fill="none" stroke="#7a5cb4" stroke-width="1.2" stroke-linecap="round" stroke-linejoin="round"/>
<path d="M353.37,462.36 L354.12,461.64 L354.66,460.98 L354.85,460.43 L354.61,460.02 L353.96,459.73 L353.02,459.52 L351.97,459.35 L351.02,459.15 L350.35,458.86 L350.09,458.45 L350.27,457.91 L350.80,457.26 L351.54,456.54 L352.30,455.82 L352.86,455.15 L353.06,454.60 L352.84,454.18 L352.21,453.88 L351.27,453.68 L350.23,453.51 L349.27,453.31 L348.59,453.02 L348.31,452.62 L348.46,452.08 L348.98,451.43 L349.72,450.71 L350.48,449.99 L351.05,449.33 L351.27,448.77 L351.07,448.34" fill="none" stroke="#7a5cb4" stroke-width="1.2" stroke-linecap="round" stroke-linejoin="round"/>
<circle cx="359.80" cy="483.40" r="24" fill="#8ccfd8"/>
<circle cx="359.8" cy="483.4" r="19.5" fill="none" stroke="#48b8d0" stroke-width="2.5"/>
<circle cx="361.11" cy="466.44" r="0.6331652802286298" fill="#ffffff"/>
<circle cx="366.47" cy="463.65" r="0.9507137288057418" fill="#f0c070"/>
<circle cx="376.65" cy="486.68" r="0.5046024692771924" fill="#a0d890"/>
<circle cx="375.56" cy="468.83" r="0.8629263007232576" fill="#ffffff"/>
<circle cx="338.17" cy="479.61" r="0.7764297881464826" fill="#ffffff"/>
<circle cx="347.69" cy="501.05" r="0.7298017328688668" fill="#e0d080"/>
<circle cx="355.56" cy="500.01" r="0.958134917752647" fill="#e0d080"/>
<circle cx="375.38" cy="475.11" r="0.9962717060880326" fill="#70c8e0"/>
<circle cx="371.13" cy="469.69" r="0.9477876973207459" fill="#c8a8e0"/>
<circle cx="379.77" cy="480.01" r="0.753858625255658" fill="#ffffff"/>
<circle cx="375.21" cy="473.65" r="0.7937903030717797" fill="#c8a8e0"/>
<circle cx="376.44" cy="468.25" r="0.6966768115349198" fill="#a0d890"/>
<circle cx="371.96" cy="467.37" r="0.8987021237771514" fill="#70c8e0"/>
<circle cx="344.24" cy="492.69" r="0.9413660120332269" fill="#a0d890"/>
<circle cx="363.32" cy="461.89" r="0.7194808150222816" fill="#f0c070"/>
<circle cx="337.77" cy="482.23" r="0.9199757702397372" fill="#a0d890"/>
<circle cx="344.85" cy="499.22" r="0.5217436451782638" fill="#ffffff"/>
<circle cx="353.05" cy="461.01" r="0.7890879526495922" fill="#a0d890"/>
<circle cx="348.90" cy="468.95" r="0.9910383187692671" fill="#e8a860"/>
<circle cx="362.44" cy="463.06" r="0.7741692335612183" fill="#e0d080"/>
<circle cx="343.93" cy="494.27" r="0.7888974039006016" fill="#e0d080"/>
<circle cx="341.66" cy="488.16" r="0.8044724127542834" fill="#a0d890"/>
<circle cx="357.28" cy="464.07" r="0.910242955962741" fill="#e0d080"/>
<circle cx="376.27" cy="469.10" r="0.5646247138033743" fill="#e0d080"/>
<circle cx="362.94" cy="465.34" r="0.74055090870712" fill="#f0c070"/>
<circle cx="346.20" cy="498.88" r="0.7067000213448893" fill="#a0d890"/>
<circle cx="367.43" cy="465.25" r="0.7692393978689221" fill="#f0c070"/>
<circle cx="344.82" cy="468.71" r="0.7999275923817417" fill="#ffffff"/>
<circle cx="366.90" cy="463.50" r="0.7922304353892207" fill="#a0d890"/>
<circle cx="374.05" cy="466.39" r="0.9256370060758194" fill="#e0d080"/>
<circle cx="375.42" cy="476.17" r="0.5352267365278085" fill="#70c8e0"/>
<circle cx="373.28" cy="468.70" r="0.877793387626099" fill="#e0d080"/>
<circle cx="359.85" cy="501.11" r="0.5923050915614623" fill="#a0d890"/>
<circle cx="355.27" cy="500.91" r="0.7636901995240064" fill="#c8a8e0"/>
<circle cx="369.04" cy="499.75" r="0.6472463885497362" fill="#70c8e0"/>
<circle cx="353.87" cy="464.06" r="0.5118172888159935" fill="#f0c070"/>
<circle cx="344.87" cy="496.31" r="0.6292104166327479" fill="#e8a860"/>
<circle cx="359.33" cy="505.14" r="0.9827817589254999" fill="#e8a860"/>
<circle cx="338.58" cy="493.12" r="0.5089322604138977" fill="#e8a860"/>
<circle cx="372.93" cy="500.65" r="0.722834258171192" fill="#e8a860"/>
<circle cx="340.04" cy="482.62" r="0.6102998740113383" fill="#e0d080"/>
<circle cx="381.73" cy="480.01" r="0.7254225135713659" fill="#a0d890"/>
<circle cx="342.79" cy="480.83" r="0.7879229813940283" fill="#70c8e0"/>
<circle cx="350.67" cy="502.42" r="0.8687256250478549" fill="#f0c070"/>
<circle cx="372.74" cy="496.45" r="0.653193310166623" fill="#f0c070"/>
<circle cx="371.78" cy="468.63" r="0.8719210593335606" fill="#c8a8e0"/>
<circle cx="343.69" cy="492.77" r="0.7803586605143469" fill="#f0c070"/>
<circle cx="372.10" cy="466.58" r="0.981100562590409" fill="#e8a860"/>
<circle cx="343.42" cy="475.66" r="0.9349432139611811" fill="#e0d080"/>
<circle cx="363.75" cy="462.72" r="0.688984417171804" fill="#f0c070"/>
<circle cx="349.31" cy="498.44" r="0.9482828730082143" fill="#70c8e0"/>
<circle cx="342.84" cy="472.43" r="0.6950302693846548" fill="#70c8e0"/>
<circle cx="342.69" cy="482.96" r="0.9358107537117776" fill="#a0d890"/>
<circle cx="373.63" cy="473.31" r="0.9287683715214606" fill="#e8a860"/>
<circle cx="367.54" cy="464.24" r="0.6695478239254669" fill="#e8a860"/>
<circle cx="364.72" cy="504.21" r="0.6896168549812863" fill="#e0d080"/>
<circle cx="337.88" cy="476.64" r="0.8435550910768287" fill="#e0d080"/>
<circle cx="336.51" cy="485.68" r="0.5326613848114952" fill="#e8a860"/>
<circle cx="377.09" cy="487.89" r="0.9554938917540339" fill="#e8a860"/>
<circle cx="364.86" cy="504.74" r="0.7529442416173674" fill="#a0d890"/>
<circle cx="359.16" cy="502.59" r="0.6456076437055673" fill="#f0c070"/>
<circle cx="373.88" cy="467.92" r="0.9436325523584814" fill="#70c8e0"/>
<circle cx="373.38" cy="498.87" r="0.6603629776803321" fill="#f0c070"/>
<circle cx="343.59" cy="494.18" r="0.573664191471435" fill="#e0d080"/>
<circle cx="372.35" cy="495.95" r="0.8909518008163774" fill="#a0d890"/>
<circle cx="344.88" cy="497.76" r="0.7829832586711021" fill="#e8a860"/>
<circle cx="378.31" cy="477.67" r="0.7822234166200988" fill="#c8a8e0"/>
<circle cx="377.60" cy="474.34" r="0.5538653425388584" fill="#c8a8e0"/>
<circle cx="377.95" cy="488.76" r="0.8352058195119655" fill="#a0d890"/>
<circle cx="374.68" cy="493.07" r="0.5200117684450823" fill="#e0d080"/>
<circle cx="361.32" cy="506.77" r="0.5810099173916808" fill="#ffffff"/>
<circle cx="339.39" cy="489.90" r="0.8720032082685042" fill="#e8a860"/>
<circle cx="378.10" cy="497.20" r="0.9032436831677855" fill="#ffffff"/>
<circle cx="338.29" cy="477.45" r="0.6267050680205634" fill="#a0d890"/>
<circle cx="342.33" cy="485.94" r="0.6587081702039399" fill="#70c8e0"/>
<circle cx="381.59" cy="487.17" r="0.8632418647280732" fill="#c8a8e0"/>
<circle cx="351.45" cy="501.07" r="0.5314823950238227" fill="#ffffff"/>
<circle cx="379.74" cy="471.34" r="0.555681155063446" fill="#ffffff"/>
<circle cx="364.36" cy="503.92" r="0.9338069211251654" fill="#a0d890"/>
<circle cx="340.85" cy="487.15" r="0.7708011314564828" fill="#e8a860"/>
<circle cx="353.24" cy="500.81" r="0.9099885235756141" fill="#f0c070"/>
<circle cx="378.33" cy="495.06" r="0.8260052672563353" fill="#f0c070"/>
<circle cx="345.46" cy="465.27" r="0.9832990441724072" fill="#ffffff"/>
<circle cx="377.41" cy="488.05" r="0.9235673829131075" fill="#e0d080"/>
<circle cx="374.68" cy="471.63" r="0.5504738112696461" fill="#c8a8e0"/>
<circle cx="342.78" cy="469.07" r="0.6225490019476243" fill="#f0c070"/>
<circle cx="378.23" cy="485.77" r="0.6340319087773738" fill="#f0c070"/>
<circle cx="374.44" cy="467.33" r="0.8176910467815286" fill="#f0c070"/>
<circle cx="354.18" cy="504.82" r="0.7344171995768285" fill="#ffffff"/>
<circle cx="370.98" cy="469.73" r="0.8974917468730119" fill="#e0d080"/>
<path d="M346.80,466.90 L359.80,463.40 L372.80,466.90 L378.30,479.40 L376.30,491.40 L365.80,495.90 L355.80,495.90 L345.30,490.40 L342.30,478.40Z" fill="#1a5a58" stroke="#2a7a78" stroke-width="1" stroke-linejoin="round"/>
<path d="M361.80,481.40 Q353.39,478.61 345.67,476.05" fill="none" stroke="#6aa860" stroke-width="0.5"/>
<path d="M361.80,481.40 Q356.47,476.13 349.81,470.71" fill="none" stroke="#6aa860" stroke-width="0.5"/>
<path d="M361.80,481.40 Q360.37,475.42 356.39,467.74" fill="none" stroke="#6aa860" stroke-width="0.5"/>
<path d="M361.80,481.40 Q364.12,476.67 363.81,467.87" fill="none" stroke="#6aa860" stroke-width="0.5"/>
<path d="M361.80,481.40 Q366.82,479.56 370.25,471.07" fill="none" stroke="#6aa860" stroke-width="0.5"/>
<path d="M361.80,481.40 Q367.80,483.40 374.13,476.56" fill="none" stroke="#6aa860" stroke-width="0.5"/>
<path d="M361.80,481.40 Q366.82,487.24 374.50,482.98" fill="none" stroke="#6aa860" stroke-width="0.5"/>
<path d="M361.80,481.40 Q364.12,490.13 371.27,488.77" fill="none" stroke="#6aa860" stroke-width="0.5"/>
<circle cx="349.73" cy="490.23" r="1.1" fill="#8a6ac8"/>
<circle cx="352.13" cy="486.25" r="1.1" fill="#8a6ac8"/>
<circle cx="372.42" cy="487.30" r="1.1" fill="#8a6ac8"/>
<circle cx="355.79" cy="470.86" r="1.1" fill="#8a6ac8"/>
<circle cx="360.66" cy="489.55" r="1.1" fill="#8a6ac8"/>
<circle cx="355.14" cy="488.96" r="1.1" fill="#8a6ac8"/>
<circle cx="351.34" cy="489.34" r="1.1" fill="#8a6ac8"/>
<circle cx="348.59" cy="475.67" r="1.1" fill="#8a6ac8"/>
<circle cx="370.38" cy="486.89" r="1.1" fill="#8a6ac8"/>
<circle cx="370.48" cy="487.74" r="1.1" fill="#8a6ac8"/>
<circle cx="366.45" cy="484.26" r="1.1" fill="#8a6ac8"/>
<circle cx="352.25" cy="478.35" r="1.1" fill="#8a6ac8"/>
<circle cx="351.75" cy="484.84" r="1.1" fill="#8a6ac8"/>
<circle cx="364.49" cy="474.21" r="1.1" fill="#8a6ac8"/>
<circle cx="351.15" cy="489.67" r="0.9" fill="#ffffff"/>
<circle cx="366.77" cy="481.39" r="0.9" fill="#ffffff"/>
<circle cx="361.17" cy="487.43" r="0.9" fill="#ffffff"/>
<circle cx="359.32" cy="478.31" r="0.9" fill="#ffffff"/>
<circle cx="356.91" cy="475.56" r="0.9" fill="#ffffff"/>
<circle cx="350.31" cy="483.33" r="0.9" fill="#ffffff"/>
<polyline points="262.80,537.82 266.69,534.32 270.57,530.43 278.34,526.54 286.11,522.65 293.88,520.71 301.65,517.47 309.42,515.52 324.96,513.58 340.50,511.64 356.04,509.04 449.28,503.86" fill="none" stroke="#000" stroke-width="1.3" stroke-linejoin="round"/>
<rect x="261.19" y="536.20" width="3.23" height="3.23" fill="#000"/>
<line x1="266.69" y1="533.02" x2="266.69" y2="535.61" stroke="#000" stroke-width="1"/>
<line x1="265.38" y1="533.02" x2="267.99" y2="533.02" stroke="#000" stroke-width="1"/>
<line x1="265.38" y1="535.61" x2="267.99" y2="535.61" stroke="#000" stroke-width="1"/>
<rect x="265.07" y="532.70" width="3.23" height="3.23" fill="#000"/>
<line x1="270.57" y1="529.13" x2="270.57" y2="531.72" stroke="#000" stroke-width="1"/>
<line x1="269.27" y1="529.13" x2="271.87" y2="529.13" stroke="#000" stroke-width="1"/>
<line x1="269.27" y1="531.72" x2="271.87" y2="531.72" stroke="#000" stroke-width="1"/>
<rect x="268.95" y="528.81" width="3.23" height="3.23" fill="#000"/>
<line x1="278.34" y1="524.60" x2="278.34" y2="528.48" stroke="#000" stroke-width="1"/>
<line x1="277.04" y1="524.60" x2="279.64" y2="524.60" stroke="#000" stroke-width="1"/>
<line x1="277.04" y1="528.48" x2="279.64" y2="528.48" stroke="#000" stroke-width="1"/>
<rect x="276.73" y="524.92" width="3.23" height="3.23" fill="#000"/>
<line x1="286.11" y1="520.06" x2="286.11" y2="525.24" stroke="#000" stroke-width="1"/>
<line x1="284.81" y1="520.06" x2="287.41" y2="520.06" stroke="#000" stroke-width="1"/>
<line x1="284.81" y1="525.24" x2="287.41" y2="525.24" stroke="#000" stroke-width="1"/>
<rect x="284.50" y="521.04" width="3.23" height="3.23" fill="#000"/>
<line x1="293.88" y1="518.12" x2="293.88" y2="523.30" stroke="#000" stroke-width="1"/>
<line x1="292.58" y1="518.12" x2="295.18" y2="518.12" stroke="#000" stroke-width="1"/>
<line x1="292.58" y1="523.30" x2="295.18" y2="523.30" stroke="#000" stroke-width="1"/>
<rect x="292.26" y="519.09" width="3.23" height="3.23" fill="#000"/>
<line x1="301.65" y1="514.23" x2="301.65" y2="520.71" stroke="#000" stroke-width="1"/>
<line x1="300.35" y1="514.23" x2="302.95" y2="514.23" stroke="#000" stroke-width="1"/>
<line x1="300.35" y1="520.71" x2="302.95" y2="520.71" stroke="#000" stroke-width="1"/>
<rect x="300.03" y="515.85" width="3.23" height="3.23" fill="#000"/>
<line x1="309.42" y1="510.99" x2="309.42" y2="520.06" stroke="#000" stroke-width="1"/>
<line x1="308.12" y1="510.99" x2="310.72" y2="510.99" stroke="#000" stroke-width="1"/>
<line x1="308.12" y1="520.06" x2="310.72" y2="520.06" stroke="#000" stroke-width="1"/>
<rect x="307.81" y="513.91" width="3.23" height="3.23" fill="#000"/>
<line x1="324.96" y1="507.10" x2="324.96" y2="520.06" stroke="#000" stroke-width="1"/>
<line x1="323.66" y1="507.10" x2="326.26" y2="507.10" stroke="#000" stroke-width="1"/>
<line x1="323.66" y1="520.06" x2="326.26" y2="520.06" stroke="#000" stroke-width="1"/>
<rect x="323.35" y="511.97" width="3.23" height="3.23" fill="#000"/>
<line x1="340.50" y1="507.10" x2="340.50" y2="516.17" stroke="#000" stroke-width="1"/>
<line x1="339.20" y1="507.10" x2="341.80" y2="507.10" stroke="#000" stroke-width="1"/>
<line x1="339.20" y1="516.17" x2="341.80" y2="516.17" stroke="#000" stroke-width="1"/>
<rect x="338.88" y="510.02" width="3.23" height="3.23" fill="#000"/>
<line x1="356.04" y1="505.16" x2="356.04" y2="512.93" stroke="#000" stroke-width="1"/>
<line x1="354.74" y1="505.16" x2="357.34" y2="505.16" stroke="#000" stroke-width="1"/>
<line x1="354.74" y1="512.93" x2="357.34" y2="512.93" stroke="#000" stroke-width="1"/>
<rect x="354.43" y="507.43" width="3.23" height="3.23" fill="#000"/>
<line x1="449.28" y1="498.03" x2="449.28" y2="509.69" stroke="#000" stroke-width="1"/>
<line x1="447.98" y1="498.03" x2="450.58" y2="498.03" stroke="#000" stroke-width="1"/>
<line x1="447.98" y1="509.69" x2="450.58" y2="509.69" stroke="#000" stroke-width="1"/>
<rect x="447.66" y="502.25" width="3.23" height="3.23" fill="#000"/>
<polyline points="262.80,537.82 266.69,527.84 270.57,516.82 278.34,503.21 286.11,494.14 293.88,485.07 301.65,476.64 309.42,471.46 324.96,463.68 340.50,459.15 356.04,452.02 449.28,420.27" fill="none" stroke="#2020ff" stroke-width="1.3" stroke-linejoin="round"/>
<circle cx="262.80" cy="537.82" r="1.9" fill="#2020ff"/>
<line x1="266.69" y1="525.24" x2="266.69" y2="530.43" stroke="#2020ff" stroke-width="1"/>
<line x1="265.38" y1="525.24" x2="267.99" y2="525.24" stroke="#2020ff" stroke-width="1"/>
<line x1="265.38" y1="530.43" x2="267.99" y2="530.43" stroke="#2020ff" stroke-width="1"/>
<circle cx="266.69" cy="527.84" r="1.9" fill="#2020ff"/>
<line x1="270.57" y1="513.58" x2="270.57" y2="520.06" stroke="#2020ff" stroke-width="1"/>
<line x1="269.27" y1="513.58" x2="271.87" y2="513.58" stroke="#2020ff" stroke-width="1"/>
<line x1="269.27" y1="520.06" x2="271.87" y2="520.06" stroke="#2020ff" stroke-width="1"/>
<circle cx="270.57" cy="516.82" r="1.9" fill="#2020ff"/>
<line x1="278.34" y1="499.32" x2="278.34" y2="507.10" stroke="#2020ff" stroke-width="1"/>
<line x1="277.04" y1="499.32" x2="279.64" y2="499.32" stroke="#2020ff" stroke-width="1"/>
<line x1="277.04" y1="507.10" x2="279.64" y2="507.10" stroke="#2020ff" stroke-width="1"/>
<circle cx="278.34" cy="503.21" r="1.9" fill="#2020ff"/>
<line x1="286.11" y1="489.60" x2="286.11" y2="498.68" stroke="#2020ff" stroke-width="1"/>
<line x1="284.81" y1="489.60" x2="287.41" y2="489.60" stroke="#2020ff" stroke-width="1"/>
<line x1="284.81" y1="498.68" x2="287.41" y2="498.68" stroke="#2020ff" stroke-width="1"/>
<circle cx="286.11" cy="494.14" r="1.9" fill="#2020ff"/>
<line x1="293.88" y1="481.18" x2="293.88" y2="488.96" stroke="#2020ff" stroke-width="1"/>
<line x1="292.58" y1="481.18" x2="295.18" y2="481.18" stroke="#2020ff" stroke-width="1"/>
<line x1="292.58" y1="488.96" x2="295.18" y2="488.96" stroke="#2020ff" stroke-width="1"/>
<circle cx="293.88" cy="485.07" r="1.9" fill="#2020ff"/>
<line x1="301.65" y1="472.11" x2="301.65" y2="481.18" stroke="#2020ff" stroke-width="1"/>
<line x1="300.35" y1="472.11" x2="302.95" y2="472.11" stroke="#2020ff" stroke-width="1"/>
<line x1="300.35" y1="481.18" x2="302.95" y2="481.18" stroke="#2020ff" stroke-width="1"/>
<circle cx="301.65" cy="476.64" r="1.9" fill="#2020ff"/>
<line x1="309.42" y1="464.98" x2="309.42" y2="477.94" stroke="#2020ff" stroke-width="1"/>
<line x1="308.12" y1="464.98" x2="310.72" y2="464.98" stroke="#2020ff" stroke-width="1"/>
<line x1="308.12" y1="477.94" x2="310.72" y2="477.94" stroke="#2020ff" stroke-width="1"/>
<circle cx="309.42" cy="471.46" r="1.9" fill="#2020ff"/>
<line x1="324.96" y1="457.20" x2="324.96" y2="470.16" stroke="#2020ff" stroke-width="1"/>
<line x1="323.66" y1="457.20" x2="326.26" y2="457.20" stroke="#2020ff" stroke-width="1"/>
<line x1="323.66" y1="470.16" x2="326.26" y2="470.16" stroke="#2020ff" stroke-width="1"/>
<circle cx="324.96" cy="463.68" r="1.9" fill="#2020ff"/>
<line x1="340.50" y1="452.02" x2="340.50" y2="466.28" stroke="#2020ff" stroke-width="1"/>
<line x1="339.20" y1="452.02" x2="341.80" y2="452.02" stroke="#2020ff" stroke-width="1"/>
<line x1="339.20" y1="466.28" x2="341.80" y2="466.28" stroke="#2020ff" stroke-width="1"/>
<circle cx="340.50" cy="459.15" r="1.9" fill="#2020ff"/>
<line x1="356.04" y1="445.54" x2="356.04" y2="458.50" stroke="#2020ff" stroke-width="1"/>
<line x1="354.74" y1="445.54" x2="357.34" y2="445.54" stroke="#2020ff" stroke-width="1"/>
<line x1="354.74" y1="458.50" x2="357.34" y2="458.50" stroke="#2020ff" stroke-width="1"/>
<circle cx="356.04" cy="452.02" r="1.9" fill="#2020ff"/>
<line x1="449.28" y1="409.25" x2="449.28" y2="431.28" stroke="#2020ff" stroke-width="1"/>
<line x1="447.98" y1="409.25" x2="450.58" y2="409.25" stroke="#2020ff" stroke-width="1"/>
<line x1="447.98" y1="431.28" x2="450.58" y2="431.28" stroke="#2020ff" stroke-width="1"/>
<circle cx="449.28" cy="420.27" r="1.9" fill="#2020ff"/>
<polyline points="262.80,537.82 266.69,525.89 270.57,514.88 278.34,499.32 286.11,489.60 293.88,481.83 301.65,473.40 309.42,462.39 324.96,458.50 340.50,452.02 356.04,444.89 449.28,405.36" fill="none" stroke="#ff2020" stroke-width="1.3" stroke-linejoin="round"/>
<polygon points="260.81,539.61 264.80,539.61 262.80,536.02" fill="#ff2020"/>
<line x1="266.69" y1="523.95" x2="266.69" y2="527.84" stroke="#ff2020" stroke-width="1"/>
<line x1="265.38" y1="523.95" x2="267.99" y2="523.95" stroke="#ff2020" stroke-width="1"/>
<line x1="265.38" y1="527.84" x2="267.99" y2="527.84" stroke="#ff2020" stroke-width="1"/>
<polygon points="264.69,527.69 268.68,527.69 266.69,524.10" fill="#ff2020"/>
<line x1="270.57" y1="512.28" x2="270.57" y2="517.47" stroke="#ff2020" stroke-width="1"/>
<line x1="269.27" y1="512.28" x2="271.87" y2="512.28" stroke="#ff2020" stroke-width="1"/>
<line x1="269.27" y1="517.47" x2="271.87" y2="517.47" stroke="#ff2020" stroke-width="1"/>
<polygon points="268.57,516.67 272.56,516.67 270.57,513.08" fill="#ff2020"/>
<line x1="278.34" y1="492.84" x2="278.34" y2="505.80" stroke="#ff2020" stroke-width="1"/>
<line x1="277.04" y1="492.84" x2="279.64" y2="492.84" stroke="#ff2020" stroke-width="1"/>
<line x1="277.04" y1="505.80" x2="279.64" y2="505.80" stroke="#ff2020" stroke-width="1"/>
<polygon points="276.35,501.12 280.34,501.12 278.34,497.53" fill="#ff2020"/>
<line x1="286.11" y1="482.48" x2="286.11" y2="496.73" stroke="#ff2020" stroke-width="1"/>
<line x1="284.81" y1="482.48" x2="287.41" y2="482.48" stroke="#ff2020" stroke-width="1"/>
<line x1="284.81" y1="496.73" x2="287.41" y2="496.73" stroke="#ff2020" stroke-width="1"/>
<polygon points="284.12,491.40 288.11,491.40 286.11,487.81" fill="#ff2020"/>
<line x1="293.88" y1="477.29" x2="293.88" y2="486.36" stroke="#ff2020" stroke-width="1"/>
<line x1="292.58" y1="477.29" x2="295.18" y2="477.29" stroke="#ff2020" stroke-width="1"/>
<line x1="292.58" y1="486.36" x2="295.18" y2="486.36" stroke="#ff2020" stroke-width="1"/>
<polygon points="291.88,483.62 295.88,483.62 293.88,480.03" fill="#ff2020"/>
<line x1="301.65" y1="467.57" x2="301.65" y2="479.24" stroke="#ff2020" stroke-width="1"/>
<line x1="300.35" y1="467.57" x2="302.95" y2="467.57" stroke="#ff2020" stroke-width="1"/>
<line x1="300.35" y1="479.24" x2="302.95" y2="479.24" stroke="#ff2020" stroke-width="1"/>
<polygon points="299.65,475.20 303.64,475.20 301.65,471.61" fill="#ff2020"/>
<line x1="309.42" y1="453.96" x2="309.42" y2="470.81" stroke="#ff2020" stroke-width="1"/>
<line x1="308.12" y1="453.96" x2="310.72" y2="453.96" stroke="#ff2020" stroke-width="1"/>
<line x1="308.12" y1="470.81" x2="310.72" y2="470.81" stroke="#ff2020" stroke-width="1"/>
<polygon points="307.43,464.18 311.42,464.18 309.42,460.59" fill="#ff2020"/>
<line x1="324.96" y1="451.37" x2="324.96" y2="465.63" stroke="#ff2020" stroke-width="1"/>
<line x1="323.66" y1="451.37" x2="326.26" y2="451.37" stroke="#ff2020" stroke-width="1"/>
<line x1="323.66" y1="465.63" x2="326.26" y2="465.63" stroke="#ff2020" stroke-width="1"/>
<polygon points="322.97,460.30 326.96,460.30 324.96,456.70" fill="#ff2020"/>
<line x1="340.50" y1="442.95" x2="340.50" y2="461.09" stroke="#ff2020" stroke-width="1"/>
<line x1="339.20" y1="442.95" x2="341.80" y2="442.95" stroke="#ff2020" stroke-width="1"/>
<line x1="339.20" y1="461.09" x2="341.80" y2="461.09" stroke="#ff2020" stroke-width="1"/>
<polygon points="338.50,453.82 342.50,453.82 340.50,450.22" fill="#ff2020"/>
<line x1="356.04" y1="434.52" x2="356.04" y2="455.26" stroke="#ff2020" stroke-width="1"/>
<line x1="354.74" y1="434.52" x2="357.34" y2="434.52" stroke="#ff2020" stroke-width="1"/>
<line x1="354.74" y1="455.26" x2="357.34" y2="455.26" stroke="#ff2020" stroke-width="1"/>
<polygon points="354.05,446.69 358.04,446.69 356.04,443.10" fill="#ff2020"/>
<line x1="449.28" y1="391.76" x2="449.28" y2="418.97" stroke="#ff2020" stroke-width="1"/>
<line x1="447.98" y1="391.76" x2="450.58" y2="391.76" stroke="#ff2020" stroke-width="1"/>
<line x1="447.98" y1="418.97" x2="450.58" y2="418.97" stroke="#ff2020" stroke-width="1"/>
<polygon points="447.28,407.16 451.27,407.16 449.28,403.57" fill="#ff2020"/>
<line x1="265.40" y1="397.80" x2="286.50" y2="397.80" stroke="#ff2020" stroke-width="1.3"/>
<polygon points="273.80,399.78 278.20,399.78 276.00,395.82" fill="#ff2020"/>
<text x="0" y="0" font-size="9.6" font-weight="bold" text-anchor="start" fill="#000" transform="translate(289.7 401.2) scale(1 1.1)" textLength="28.6" lengthAdjust="spacingAndGlyphs">pH 5.5</text>
<line x1="265.40" y1="410.10" x2="286.50" y2="410.10" stroke="#2020ff" stroke-width="1.3"/>
<circle cx="276.00" cy="410.10" r="2.1" fill="#2020ff"/>
<text x="0" y="0" font-size="9.6" font-weight="bold" text-anchor="start" fill="#000" transform="translate(289.7 413.5) scale(1 1.1)" textLength="28.6" lengthAdjust="spacingAndGlyphs">pH 6.5</text>
<line x1="265.40" y1="422.10" x2="286.50" y2="422.10" stroke="#000" stroke-width="1.3"/>
<rect x="274.21" y="420.31" width="3.57" height="3.57" fill="#000"/>
<text x="0" y="0" font-size="9.6" font-weight="bold" text-anchor="start" fill="#000" transform="translate(289.7 425.5) scale(1 1.1)" textLength="28.6" lengthAdjust="spacingAndGlyphs">pH 7.4</text>
<text x="0" y="0" font-size="5.4" font-weight="normal" text-anchor="start" fill="#222" transform="translate(396.6 478)" textLength="18.4" lengthAdjust="spacingAndGlyphs">Low pH</text>
<line x1="394.00" y1="480.30" x2="416.00" y2="480.30" stroke="#000" stroke-width="0.9"/>
<polygon points="418,480.3 415,478.9 415,481.7" fill="#000"/>
<circle cx="436.90" cy="468.20" r="3.6" fill="#ebe6f6" stroke="#b8a8e0" stroke-width="0.7"/>
<text x="0" y="0" font-size="4" font-weight="normal" text-anchor="middle" fill="#111" transform="translate(436.9 469.59999999999997)" textLength="5.4" lengthAdjust="spacingAndGlyphs">NO</text>
<circle cx="445.70" cy="476.20" r="3.6" fill="#ebe6f6" stroke="#b8a8e0" stroke-width="0.7"/>
<text x="0" y="0" font-size="4" font-weight="normal" text-anchor="middle" fill="#111" transform="translate(445.7 477.59999999999997)" textLength="5.4" lengthAdjust="spacingAndGlyphs">NO</text>
<circle cx="423.60" cy="475.20" r="3.6" fill="#ebe6f6" stroke="#b8a8e0" stroke-width="0.7"/>
<text x="0" y="0" font-size="4" font-weight="normal" text-anchor="middle" fill="#111" transform="translate(423.6 476.59999999999997)" textLength="5.4" lengthAdjust="spacingAndGlyphs">NO</text>
<circle cx="433.00" cy="482.90" r="3.6" fill="#ebe6f6" stroke="#b8a8e0" stroke-width="0.7"/>
<text x="0" y="0" font-size="4" font-weight="normal" text-anchor="middle" fill="#111" transform="translate(433 484.29999999999995)" textLength="5.4" lengthAdjust="spacingAndGlyphs">NO</text>
<circle cx="440.60" cy="490.10" r="3.6" fill="#ebe6f6" stroke="#b8a8e0" stroke-width="0.7"/>
<text x="0" y="0" font-size="4" font-weight="normal" text-anchor="middle" fill="#111" transform="translate(440.6 491.5)" textLength="5.4" lengthAdjust="spacingAndGlyphs">NO</text>
<circle cx="423.60" cy="492.50" r="3.6" fill="#ebe6f6" stroke="#b8a8e0" stroke-width="0.7"/>
<text x="0" y="0" font-size="4" font-weight="normal" text-anchor="middle" fill="#111" transform="translate(423.6 493.9)" textLength="5.4" lengthAdjust="spacingAndGlyphs">NO</text>
<text x="0" y="0" font-size="10.3" font-weight="bold" text-anchor="start" fill="#000" transform="translate(335.1 566) scale(1 1.1)" textLength="42.6" lengthAdjust="spacingAndGlyphs">Time (h)</text>
<text x="0" y="0" font-size="10.9" font-weight="bold" text-anchor="start" fill="#000" transform="translate(239.3 508) rotate(-90) scale(1 1.05)" textLength="86.3" lengthAdjust="spacingAndGlyphs">NO Release (<tspan font-family="Liberation Serif">μ</tspan>M)</text>
<text x="0" y="0" font-size="18.7" font-weight="bold" text-anchor="start" fill="#000" transform="translate(229 390.9)">h</text>
<defs><linearGradient id="beam" x1="0" y1="0" x2="1" y2="1">
<stop offset="0" stop-color="#e83020" stop-opacity="0.95"/><stop offset="0.5" stop-color="#f06848" stop-opacity="0.7"/><stop offset="1" stop-color="#f8c0a8" stop-opacity="0.3"/></linearGradient></defs>
<polygon points="558,441 566,437 614,468 598,492 582,488" fill="url(#beam)"/>
<line x1="562" y1="440" x2="584.0" y2="486.0" stroke="#fff" stroke-opacity="0.25" stroke-width="0.6"/>
<line x1="562" y1="440" x2="589.6" y2="482.0" stroke="#fff" stroke-opacity="0.25" stroke-width="0.6"/>
<line x1="562" y1="440" x2="595.2" y2="478.0" stroke="#fff" stroke-opacity="0.25" stroke-width="0.6"/>
<line x1="562" y1="440" x2="600.8" y2="474.0" stroke="#fff" stroke-opacity="0.25" stroke-width="0.6"/>
<line x1="562" y1="440" x2="606.4" y2="470.0" stroke="#fff" stroke-opacity="0.25" stroke-width="0.6"/>
<line x1="562" y1="440" x2="612.0" y2="466.0" stroke="#fff" stroke-opacity="0.25" stroke-width="0.6"/>
<g transform="rotate(-40 558.8 435.8)"><rect x="552.5" y="429.5" width="12.6" height="11" rx="2" fill="#151515"/><rect x="553.5" y="431" width="10.6" height="2" fill="#4a4a4a"/><rect x="553" y="439.5" width="11.6" height="2.4" fill="#d02818"/></g>
<text x="0" y="0" font-size="5.6" font-weight="normal" text-anchor="start" fill="#222" transform="translate(549.4 428.2)" textLength="24" lengthAdjust="spacingAndGlyphs">NIR Laser</text>
<path d="M597.91,475.61 L598.54,474.76 L598.97,473.99 L599.06,473.38 L598.75,472.96 L598.04,472.72 L597.06,472.61 L595.98,472.55 L594.99,472.45 L594.28,472.22 L593.94,471.81 L594.02,471.20 L594.44,470.44 L595.06,469.59 L595.68,468.73 L596.13,467.96 L596.24,467.34 L595.94,466.91 L595.25,466.67 L594.28,466.55 L593.20,466.49 L592.21,466.39 L591.47,466.16 L591.12,465.76 L591.18,465.17 L591.59,464.41 L592.20,463.56 L592.83,462.70 L593.29,461.92 L593.41,461.30 L593.13,460.86" fill="none" stroke="#7a5cb4" stroke-width="1.2" stroke-linecap="round" stroke-linejoin="round"/>
<path d="M609.62,473.76 L610.60,473.36 L611.38,472.94 L611.78,472.48 L611.73,471.95 L611.26,471.38 L610.49,470.77 L609.60,470.15 L608.82,469.53 L608.34,468.96 L608.27,468.43 L608.65,467.96 L609.41,467.54 L610.39,467.14 L611.38,466.75 L612.16,466.33 L612.58,465.87 L612.56,465.35 L612.10,464.77 L611.34,464.16 L610.46,463.54 L609.67,462.93 L609.16,462.35 L609.08,461.82 L609.44,461.35 L610.19,460.93 L611.16,460.53 L612.15,460.13 L612.95,459.72 L613.39,459.25 L613.38,458.74" fill="none" stroke="#7a5cb4" stroke-width="1.2" stroke-linecap="round" stroke-linejoin="round"/>
<path d="M619.94,477.93 L620.94,478.14 L621.78,478.22 L622.31,478.07 L622.49,477.66 L622.33,476.99 L621.92,476.13 L621.42,475.21 L621.00,474.34 L620.83,473.66 L620.99,473.23 L621.51,473.08 L622.33,473.15 L623.33,473.36 L624.34,473.57 L625.19,473.66 L625.74,473.52 L625.93,473.12 L625.78,472.46 L625.38,471.61 L624.88,470.68 L624.46,469.82 L624.27,469.12 L624.41,468.68 L624.92,468.52 L625.73,468.58 L626.73,468.78 L627.74,469.00 L628.59,469.09 L629.16,468.97 L629.37,468.58" fill="none" stroke="#7a5cb4" stroke-width="1.2" stroke-linecap="round" stroke-linejoin="round"/>
<path d="M626.16,485.34 L626.97,485.96 L627.69,486.40 L628.23,486.51 L628.58,486.21 L628.73,485.53 L628.74,484.58 L628.70,483.53 L628.70,482.58 L628.84,481.88 L629.18,481.57 L629.72,481.66 L630.43,482.08 L631.24,482.70 L632.05,483.33 L632.78,483.78 L633.33,483.90 L633.68,483.62 L633.84,482.96 L633.86,482.02 L633.82,480.97 L633.82,480.00 L633.95,479.30 L634.28,478.96 L634.81,479.04 L635.51,479.45 L636.32,480.07 L637.14,480.70 L637.87,481.16 L638.43,481.30 L638.79,481.04" fill="none" stroke="#7a5cb4" stroke-width="1.2" stroke-linecap="round" stroke-linejoin="round"/>
<path d="M628.47,496.23 L628.92,497.18 L629.39,497.92 L629.87,498.29 L630.38,498.20 L630.91,497.69 L631.46,496.88 L632.01,495.95 L632.56,495.13 L633.09,494.61 L633.60,494.50 L634.08,494.85 L634.55,495.58 L635.00,496.53 L635.46,497.48 L635.92,498.24 L636.40,498.62 L636.91,498.56 L637.44,498.07 L637.99,497.26 L638.54,496.34 L639.08,495.50 L639.62,494.96 L640.13,494.84 L640.61,495.17 L641.08,495.88 L641.53,496.83 L641.99,497.79 L642.45,498.55 L642.93,498.96 L643.44,498.91" fill="none" stroke="#7a5cb4" stroke-width="1.2" stroke-linecap="round" stroke-linejoin="round"/>
<path d="M625.03,506.81 L624.94,507.86 L624.97,508.73 L625.20,509.28 L625.67,509.46 L626.38,509.28 L627.25,508.84 L628.18,508.31 L629.06,507.87 L629.78,507.67 L630.26,507.84 L630.50,508.38 L630.53,509.23 L630.45,510.28 L630.36,511.33 L630.37,512.21 L630.59,512.78 L631.06,512.97 L631.75,512.81 L632.62,512.38 L633.56,511.85 L634.44,511.40 L635.16,511.19 L635.66,511.33 L635.91,511.86 L635.95,512.71 L635.86,513.74 L635.77,514.80 L635.78,515.69 L635.99,516.28 L636.44,516.49" fill="none" stroke="#7a5cb4" stroke-width="1.2" stroke-linecap="round" stroke-linejoin="round"/>
<path d="M613.64,515.55 L612.91,516.30 L612.38,516.99 L612.21,517.56 L612.47,517.99 L613.13,518.29 L614.08,518.49 L615.14,518.66 L616.10,518.87 L616.77,519.16 L617.05,519.59 L616.89,520.15 L616.37,520.83 L615.65,521.58 L614.91,522.34 L614.37,523.03 L614.18,523.60 L614.42,524.04 L615.06,524.34 L616.00,524.55 L617.06,524.72 L618.03,524.92 L618.72,525.21 L619.02,525.63 L618.88,526.19 L618.37,526.87 L617.65,527.62 L616.92,528.37 L616.36,529.07 L616.15,529.65 L616.37,530.09" fill="none" stroke="#7a5cb4" stroke-width="1.2" stroke-linecap="round" stroke-linejoin="round"/>
<path d="M598.95,515.03 L597.91,515.11 L597.08,515.27 L596.59,515.57 L596.52,516.03 L596.85,516.66 L597.45,517.40 L598.17,518.18 L598.78,518.93 L599.12,519.56 L599.07,520.04 L598.60,520.34 L597.78,520.50 L596.75,520.58 L595.71,520.66 L594.87,520.81 L594.36,521.10 L594.27,521.56 L594.58,522.18 L595.18,522.92 L595.89,523.70 L596.52,524.45 L596.87,525.09 L596.84,525.57 L596.38,525.88 L595.57,526.05 L594.55,526.13 L593.51,526.21 L592.65,526.35 L592.13,526.64 L592.02,527.09" fill="none" stroke="#7a5cb4" stroke-width="1.2" stroke-linecap="round" stroke-linejoin="round"/>
<path d="M585.71,498.09 L585.10,497.24 L584.52,496.60 L584.00,496.33 L583.53,496.51 L583.13,497.10 L582.77,498.00 L582.42,499.02 L582.06,499.93 L581.66,500.54 L581.19,500.74 L580.67,500.48 L580.09,499.85 L579.49,499.01 L578.88,498.15 L578.30,497.50 L577.77,497.21 L577.30,497.37 L576.89,497.95 L576.53,498.84 L576.18,499.85 L575.83,500.77 L575.43,501.40 L574.97,501.61 L574.45,501.38 L573.87,500.77 L573.26,499.93 L572.65,499.07 L572.07,498.40 L571.54,498.09 L571.07,498.23" fill="none" stroke="#7a5cb4" stroke-width="1.2" stroke-linecap="round" stroke-linejoin="round"/>
<path d="M586.05,490.26 L585.79,489.25 L585.48,488.45 L585.08,488.00 L584.59,488.00 L583.99,488.42 L583.33,489.13 L582.65,489.95 L581.99,490.67 L581.39,491.10 L580.89,491.11 L580.49,490.69 L580.18,489.90 L579.91,488.89 L579.65,487.87 L579.34,487.05 L578.95,486.59 L578.46,486.57 L577.87,486.97 L577.21,487.67 L576.53,488.49 L575.86,489.22 L575.26,489.67 L574.76,489.70 L574.36,489.30 L574.04,488.52 L573.77,487.51 L573.51,486.49 L573.21,485.66 L572.82,485.19 L572.33,485.14" fill="none" stroke="#7a5cb4" stroke-width="1.2" stroke-linecap="round" stroke-linejoin="round"/>
<circle cx="607.00" cy="495.10" r="23.5" fill="#8ccfd8"/>
<circle cx="607" cy="495.1" r="19.0" fill="none" stroke="#48b8d0" stroke-width="2.5"/>
<circle cx="591.70" cy="486.54" r="0.8192356690523468" fill="#ffffff"/>
<circle cx="614.31" cy="474.25" r="0.9746977365466218" fill="#a0d890"/>
<circle cx="588.35" cy="489.79" r="0.9506038987484735" fill="#c8a8e0"/>
<circle cx="620.00" cy="481.43" r="0.9538750550896484" fill="#c8a8e0"/>
<circle cx="587.27" cy="505.37" r="0.7802551805132494" fill="#e8a860"/>
<circle cx="608.45" cy="511.69" r="0.5867943768825284" fill="#c8a8e0"/>
<circle cx="588.20" cy="493.90" r="0.8372398486729351" fill="#a0d890"/>
<circle cx="616.26" cy="515.39" r="0.7073354971945349" fill="#e0d080"/>
<circle cx="584.88" cy="491.54" r="0.8948738187308816" fill="#c8a8e0"/>
<circle cx="593.12" cy="513.28" r="0.5805923266520094" fill="#ffffff"/>
<circle cx="607.53" cy="473.96" r="0.827455489077999" fill="#ffffff"/>
<circle cx="607.01" cy="513.41" r="0.7504205313153274" fill="#ffffff"/>
<circle cx="616.21" cy="478.71" r="0.9498502943783129" fill="#ffffff"/>
<circle cx="587.41" cy="500.00" r="0.8618864769360092" fill="#a0d890"/>
<circle cx="589.12" cy="496.61" r="0.907341829313232" fill="#c8a8e0"/>
<circle cx="618.30" cy="475.99" r="0.6340687564499081" fill="#a0d890"/>
<circle cx="622.72" cy="485.32" r="0.8531029031838023" fill="#e0d080"/>
<circle cx="587.14" cy="494.57" r="0.8079041078237619" fill="#70c8e0"/>
<circle cx="589.30" cy="506.86" r="0.7559458291776413" fill="#ffffff"/>
<circle cx="625.82" cy="486.84" r="0.8921399258837104" fill="#f0c070"/>
<circle cx="598.00" cy="509.00" r="0.5957013666520588" fill="#e0d080"/>
<circle cx="606.45" cy="478.23" r="0.5244550640624006" fill="#70c8e0"/>
<circle cx="589.44" cy="483.69" r="0.877184892156581" fill="#f0c070"/>
<circle cx="618.92" cy="508.89" r="0.6052394693478232" fill="#e0d080"/>
<circle cx="621.08" cy="481.97" r="0.8797045351262132" fill="#70c8e0"/>
<circle cx="624.65" cy="501.68" r="0.8363827207067709" fill="#e8a860"/>
<circle cx="626.69" cy="506.40" r="0.5204372880213838" fill="#f0c070"/>
<circle cx="623.51" cy="485.84" r="0.906677193701138" fill="#e8a860"/>
<circle cx="616.75" cy="509.87" r="0.5009681261538188" fill="#70c8e0"/>
<circle cx="588.67" cy="483.56" r="0.5757100543782758" fill="#e8a860"/>
<circle cx="625.25" cy="499.33" r="0.8138781366588905" fill="#a0d890"/>
<circle cx="606.73" cy="476.74" r="0.5154054288133443" fill="#ffffff"/>
<circle cx="586.63" cy="501.91" r="0.5228862311766302" fill="#70c8e0"/>
<circle cx="605.33" cy="514.14" r="0.8526725700253828" fill="#a0d890"/>
<circle cx="589.30" cy="498.16" r="0.8436977279048634" fill="#70c8e0"/>
<circle cx="615.78" cy="480.95" r="0.9373815206739837" fill="#e0d080"/>
<circle cx="621.13" cy="509.68" r="0.7434608657464485" fill="#ffffff"/>
<circle cx="596.56" cy="514.68" r="0.6295482116261027" fill="#c8a8e0"/>
<circle cx="591.89" cy="483.21" r="0.8497369049413134" fill="#f0c070"/>
<circle cx="627.17" cy="489.79" r="0.5167781231243235" fill="#c8a8e0"/>
<circle cx="616.07" cy="509.62" r="0.6158275362411856" fill="#70c8e0"/>
<circle cx="625.26" cy="484.52" r="0.9972626166297516" fill="#f0c070"/>
<circle cx="609.13" cy="514.37" r="0.5402146078319748" fill="#c8a8e0"/>
<circle cx="609.96" cy="516.54" r="0.8547491519146748" fill="#a0d890"/>
<circle cx="606.20" cy="514.33" r="0.8753388971270053" fill="#a0d890"/>
<circle cx="618.06" cy="510.55" r="0.555587483614988" fill="#e8a860"/>
<circle cx="604.04" cy="477.28" r="0.5099008946931365" fill="#f0c070"/>
<circle cx="607.06" cy="477.92" r="0.7603681820239487" fill="#f0c070"/>
<circle cx="588.95" cy="499.21" r="0.6900013544129198" fill="#70c8e0"/>
<circle cx="598.45" cy="475.44" r="0.8644655227887621" fill="#e8a860"/>
<circle cx="588.87" cy="503.12" r="0.7956714408518177" fill="#a0d890"/>
<circle cx="623.57" cy="479.82" r="0.5906125304125858" fill="#a0d890"/>
<circle cx="625.05" cy="507.17" r="0.5097414423495892" fill="#c8a8e0"/>
<circle cx="623.75" cy="490.88" r="0.6447903837650817" fill="#c8a8e0"/>
<circle cx="625.82" cy="493.14" r="0.9371735032100628" fill="#f0c070"/>
<circle cx="592.36" cy="504.10" r="0.9203058435594205" fill="#e8a860"/>
<circle cx="599.24" cy="480.42" r="0.5299953870872943" fill="#ffffff"/>
<circle cx="594.31" cy="480.28" r="0.8067783120043177" fill="#a0d890"/>
<circle cx="623.65" cy="495.66" r="0.9676352170242555" fill="#c8a8e0"/>
<circle cx="625.98" cy="505.00" r="0.557884184910181" fill="#e8a860"/>
<circle cx="592.19" cy="510.21" r="0.8767902528678592" fill="#e8a860"/>
<circle cx="593.33" cy="505.69" r="0.5614792670328569" fill="#f0c070"/>
<circle cx="593.11" cy="482.62" r="0.9798342816979061" fill="#ffffff"/>
<circle cx="601.13" cy="479.51" r="0.7351872428402749" fill="#70c8e0"/>
<circle cx="627.32" cy="500.75" r="0.6787923088654859" fill="#c8a8e0"/>
<circle cx="586.09" cy="500.88" r="0.742100777202486" fill="#c8a8e0"/>
<circle cx="621.08" cy="479.28" r="0.9021749884596688" fill="#70c8e0"/>
<circle cx="626.97" cy="486.02" r="0.6973359109149402" fill="#c8a8e0"/>
<circle cx="618.31" cy="512.05" r="0.7138269159779642" fill="#a0d890"/>
<circle cx="597.32" cy="474.82" r="0.8639004409978287" fill="#a0d890"/>
<circle cx="591.92" cy="487.33" r="0.9988740106868154" fill="#e8a860"/>
<circle cx="618.63" cy="510.39" r="0.8992852571835717" fill="#f0c070"/>
<circle cx="624.77" cy="484.04" r="0.824041038891568" fill="#e0d080"/>
<circle cx="619.74" cy="508.41" r="0.8542015801024896" fill="#e8a860"/>
<circle cx="621.00" cy="482.79" r="0.7619973841569883" fill="#e8a860"/>
<circle cx="622.26" cy="508.06" r="0.7118549425011667" fill="#e0d080"/>
<circle cx="598.39" cy="511.04" r="0.6286302587746304" fill="#a0d890"/>
<circle cx="622.40" cy="483.14" r="0.617223525062812" fill="#70c8e0"/>
<circle cx="620.27" cy="481.74" r="0.7867202003632652" fill="#e0d080"/>
<circle cx="618.89" cy="510.39" r="0.9048659078596688" fill="#f0c070"/>
<circle cx="591.19" cy="509.35" r="0.7550857516138715" fill="#ffffff"/>
<circle cx="587.98" cy="497.20" r="0.8656237421060723" fill="#70c8e0"/>
<circle cx="589.36" cy="505.96" r="0.9809887057080042" fill="#c8a8e0"/>
<circle cx="596.63" cy="513.76" r="0.540706730490956" fill="#70c8e0"/>
<circle cx="616.00" cy="475.88" r="0.8106245144750017" fill="#a0d890"/>
<circle cx="589.94" cy="507.06" r="0.9574849419728138" fill="#70c8e0"/>
<circle cx="599.33" cy="513.47" r="0.8250425166538686" fill="#ffffff"/>
<circle cx="613.70" cy="479.90" r="0.8647318168329727" fill="#e8a860"/>
<circle cx="589.44" cy="481.22" r="0.6949920759186938" fill="#f0c070"/>
<circle cx="586.70" cy="487.40" r="0.8721228462509333" fill="#c8a8e0"/>
<path d="M594.26,478.93 L607.00,475.50 L619.74,478.93 L625.13,491.18 L623.17,502.94 L612.88,507.35 L603.08,507.35 L592.79,501.96 L589.85,490.20Z" fill="#1a5a58" stroke="#2a7a78" stroke-width="1" stroke-linejoin="round"/>
<path d="M609.00,493.10 Q600.59,490.31 592.87,487.75" fill="none" stroke="#6aa860" stroke-width="0.5"/>
<path d="M609.00,493.10 Q603.67,487.83 597.01,482.41" fill="none" stroke="#6aa860" stroke-width="0.5"/>
<path d="M609.00,493.10 Q607.57,487.12 603.59,479.44" fill="none" stroke="#6aa860" stroke-width="0.5"/>
<path d="M609.00,493.10 Q611.32,488.37 611.01,479.57" fill="none" stroke="#6aa860" stroke-width="0.5"/>
<path d="M609.00,493.10 Q614.02,491.26 617.45,482.77" fill="none" stroke="#6aa860" stroke-width="0.5"/>
<path d="M609.00,493.10 Q615.00,495.10 621.33,488.26" fill="none" stroke="#6aa860" stroke-width="0.5"/>
<path d="M609.00,493.10 Q614.02,498.94 621.70,494.68" fill="none" stroke="#6aa860" stroke-width="0.5"/>
<path d="M609.00,493.10 Q611.32,501.83 618.47,500.47" fill="none" stroke="#6aa860" stroke-width="0.5"/>
<circle cx="609.60" cy="484.72" r="1.1" fill="#8a6ac8"/>
<circle cx="614.94" cy="483.51" r="1.1" fill="#8a6ac8"/>
<circle cx="610.24" cy="490.19" r="1.1" fill="#8a6ac8"/>
<circle cx="601.46" cy="493.16" r="1.1" fill="#8a6ac8"/>
<circle cx="606.68" cy="485.02" r="1.1" fill="#8a6ac8"/>
<circle cx="618.93" cy="482.04" r="1.1" fill="#8a6ac8"/>
<circle cx="595.31" cy="491.34" r="1.1" fill="#8a6ac8"/>
<circle cx="615.75" cy="495.24" r="1.1" fill="#8a6ac8"/>
<circle cx="613.73" cy="491.33" r="1.1" fill="#8a6ac8"/>
<circle cx="611.77" cy="487.95" r="1.1" fill="#8a6ac8"/>
<circle cx="601.78" cy="491.74" r="1.1" fill="#8a6ac8"/>
<circle cx="595.91" cy="482.20" r="1.1" fill="#8a6ac8"/>
<circle cx="613.71" cy="484.32" r="1.1" fill="#8a6ac8"/>
<circle cx="613.62" cy="498.08" r="1.1" fill="#8a6ac8"/>
<circle cx="605.52" cy="495.59" r="0.9" fill="#ffffff"/>
<circle cx="613.41" cy="499.29" r="0.9" fill="#ffffff"/>
<circle cx="599.98" cy="485.55" r="0.9" fill="#ffffff"/>
<circle cx="605.05" cy="491.47" r="0.9" fill="#ffffff"/>
<circle cx="603.27" cy="482.56" r="0.9" fill="#ffffff"/>
<circle cx="608.67" cy="501.31" r="0.9" fill="#ffffff"/>
<circle cx="640.60" cy="472.70" r="3.4" fill="#f4f8ee" stroke="#b8d8a0" stroke-width="0.7"/>
<text x="0" y="0" font-size="3.4" font-weight="normal" text-anchor="middle" fill="#555" transform="translate(640.1 473.9)">O<tspan font-size="2.4" dy="1">2</tspan></text>
<circle cx="658.60" cy="476.00" r="3.4" fill="#f4f8ee" stroke="#b8d8a0" stroke-width="0.7"/>
<text x="0" y="0" font-size="3.4" font-weight="normal" text-anchor="middle" fill="#555" transform="translate(658.1 477.2)">O<tspan font-size="2.4" dy="1">2</tspan></text>
<circle cx="648.10" cy="484.40" r="3.4" fill="#f4f8ee" stroke="#b8d8a0" stroke-width="0.7"/>
<text x="0" y="0" font-size="3.4" font-weight="normal" text-anchor="middle" fill="#555" transform="translate(647.6 485.59999999999997)">O<tspan font-size="2.4" dy="1">2</tspan></text>
<circle cx="663.00" cy="489.90" r="3.4" fill="#f4f8ee" stroke="#b8d8a0" stroke-width="0.7"/>
<text x="0" y="0" font-size="3.4" font-weight="normal" text-anchor="middle" fill="#555" transform="translate(662.5 491.09999999999997)">O<tspan font-size="2.4" dy="1">2</tspan></text>
<circle cx="672.90" cy="504.10" r="3.4" fill="#f4f8ee" stroke="#b8d8a0" stroke-width="0.7"/>
<text x="0" y="0" font-size="3.4" font-weight="normal" text-anchor="middle" fill="#555" transform="translate(672.4 505.3)">O<tspan font-size="2.4" dy="1">2</tspan></text>
<circle cx="647.00" cy="505.20" r="3.4" fill="#f4f8ee" stroke="#b8d8a0" stroke-width="0.7"/>
<text x="0" y="0" font-size="3.4" font-weight="normal" text-anchor="middle" fill="#555" transform="translate(646.5 506.4)">O<tspan font-size="2.4" dy="1">2</tspan></text>
<circle cx="659.70" cy="514.00" r="3.4" fill="#f4f8ee" stroke="#b8d8a0" stroke-width="0.7"/>
<text x="0" y="0" font-size="3.4" font-weight="normal" text-anchor="middle" fill="#555" transform="translate(659.2 515.2)">O<tspan font-size="2.4" dy="1">2</tspan></text>
<circle cx="644.30" cy="517.80" r="3.4" fill="#f4f8ee" stroke="#b8d8a0" stroke-width="0.7"/>
<text x="0" y="0" font-size="3.4" font-weight="normal" text-anchor="middle" fill="#555" transform="translate(643.8 519.0)">O<tspan font-size="2.4" dy="1">2</tspan></text>
<rect x="557" y="474.4" width="5" height="36" rx="2.5" fill="#dcdcdc" stroke="#aaa" stroke-width="0.4"/>
<rect x="557.6" y="486.6" width="3.8" height="19" fill="#c83818"/>
<circle cx="559.50" cy="507.80" r="3.4" fill="#f0a030" filter="url(#blur1)"/>
<rect x="488.6" y="387" width="194.5" height="155.60000000000002" fill="none" stroke="#1a1a1a" stroke-width="1.3"/>
<line x1="485.80" y1="542.40" x2="488.60" y2="542.40" stroke="#1a1a1a" stroke-width="1.1"/>
<text x="0" y="0" font-size="8.4" font-weight="bold" text-anchor="end" fill="#000" transform="translate(483.7 545.5) scale(1 1.2)">0</text>
<line x1="485.80" y1="477.60" x2="488.60" y2="477.60" stroke="#1a1a1a" stroke-width="1.1"/>
<text x="0" y="0" font-size="8.4" font-weight="bold" text-anchor="end" fill="#000" transform="translate(483.7 480.7) scale(1 1.2)">20</text>
<line x1="485.80" y1="412.80" x2="488.60" y2="412.80" stroke="#1a1a1a" stroke-width="1.1"/>
<text x="0" y="0" font-size="8.4" font-weight="bold" text-anchor="end" fill="#000" transform="translate(483.7 415.9) scale(1 1.2)">40</text>
<line x1="497.40" y1="542.60" x2="497.40" y2="545.40" stroke="#1a1a1a" stroke-width="1.1"/>
<text x="0" y="0" font-size="8.5" font-weight="bold" text-anchor="middle" fill="#000" transform="translate(497.4 555) scale(1 1.18)">0</text>
<line x1="532.80" y1="542.60" x2="532.80" y2="545.40" stroke="#1a1a1a" stroke-width="1.1"/>
<text x="0" y="0" font-size="8.5" font-weight="bold" text-anchor="middle" fill="#000" transform="translate(532.8 555) scale(1 1.18)">2</text>
<line x1="568.20" y1="542.60" x2="568.20" y2="545.40" stroke="#1a1a1a" stroke-width="1.1"/>
<text x="0" y="0" font-size="8.5" font-weight="bold" text-anchor="middle" fill="#000" transform="translate(568.1999999999999 555) scale(1 1.18)">4</text>
<line x1="603.60" y1="542.60" x2="603.60" y2="545.40" stroke="#1a1a1a" stroke-width="1.1"/>
<text x="0" y="0" font-size="8.5" font-weight="bold" text-anchor="middle" fill="#000" transform="translate(603.5999999999999 555) scale(1 1.18)">6</text>
<line x1="639.00" y1="542.60" x2="639.00" y2="545.40" stroke="#1a1a1a" stroke-width="1.1"/>
<text x="0" y="0" font-size="8.5" font-weight="bold" text-anchor="middle" fill="#000" transform="translate(639.0 555) scale(1 1.18)">8</text>
<line x1="674.40" y1="542.60" x2="674.40" y2="545.40" stroke="#1a1a1a" stroke-width="1.1"/>
<text x="0" y="0" font-size="8.5" font-weight="bold" text-anchor="middle" fill="#000" transform="translate(674.4 555) scale(1 1.18)">10</text>
<polyline points="497.40,541.43 506.25,541.43 515.10,541.43 523.95,541.27 532.80,541.27 541.65,541.10 550.50,541.10 559.35,541.10 568.20,540.94 577.05,540.94 585.90,540.78 594.75,540.78 603.60,540.78 612.45,540.62 621.30,540.62 630.15,540.46 639.00,540.46 647.85,540.46 656.70,540.29 665.55,540.29 674.40,540.13" fill="none" stroke="#000" stroke-width="1.3" stroke-linejoin="round"/>
<rect x="495.61" y="539.64" width="3.57" height="3.57" fill="#000"/>
<rect x="504.46" y="539.64" width="3.57" height="3.57" fill="#000"/>
<rect x="513.32" y="539.64" width="3.57" height="3.57" fill="#000"/>
<rect x="522.16" y="539.48" width="3.57" height="3.57" fill="#000"/>
<rect x="531.01" y="539.48" width="3.57" height="3.57" fill="#000"/>
<rect x="539.87" y="539.32" width="3.57" height="3.57" fill="#000"/>
<rect x="548.72" y="539.32" width="3.57" height="3.57" fill="#000"/>
<rect x="557.57" y="539.32" width="3.57" height="3.57" fill="#000"/>
<rect x="566.41" y="539.16" width="3.57" height="3.57" fill="#000"/>
<rect x="575.26" y="539.16" width="3.57" height="3.57" fill="#000"/>
<rect x="584.12" y="539.00" width="3.57" height="3.57" fill="#000"/>
<rect x="592.97" y="539.00" width="3.57" height="3.57" fill="#000"/>
<rect x="601.81" y="539.00" width="3.57" height="3.57" fill="#000"/>
<rect x="610.66" y="538.83" width="3.57" height="3.57" fill="#000"/>
<rect x="619.51" y="538.83" width="3.57" height="3.57" fill="#000"/>
<rect x="628.37" y="538.67" width="3.57" height="3.57" fill="#000"/>
<rect x="637.22" y="538.67" width="3.57" height="3.57" fill="#000"/>
<rect x="646.06" y="538.67" width="3.57" height="3.57" fill="#000"/>
<rect x="654.91" y="538.51" width="3.57" height="3.57" fill="#000"/>
<rect x="663.76" y="538.51" width="3.57" height="3.57" fill="#000"/>
<rect x="672.62" y="538.35" width="3.57" height="3.57" fill="#000"/>
<polyline points="497.40,540.78 506.25,540.78 515.10,539.81 523.95,538.19 532.80,536.89 541.65,536.57 550.50,536.57 559.35,536.57 568.20,536.57 577.05,536.24 585.90,536.24 594.75,536.24 603.60,536.24 612.45,536.24 621.30,535.92 630.15,535.92 639.00,535.92 647.85,535.92 656.70,535.60 665.55,535.60 674.40,535.60" fill="none" stroke="#ff20ff" stroke-width="1.3" stroke-linejoin="round"/>
<circle cx="497.40" cy="540.78" r="2.1" fill="#ff20ff"/>
<circle cx="506.25" cy="540.78" r="2.1" fill="#ff20ff"/>
<circle cx="515.10" cy="539.81" r="2.1" fill="#ff20ff"/>
<circle cx="523.95" cy="538.19" r="2.1" fill="#ff20ff"/>
<circle cx="532.80" cy="536.89" r="2.1" fill="#ff20ff"/>
<circle cx="541.65" cy="536.57" r="2.1" fill="#ff20ff"/>
<circle cx="550.50" cy="536.57" r="2.1" fill="#ff20ff"/>
<circle cx="559.35" cy="536.57" r="2.1" fill="#ff20ff"/>
<circle cx="568.20" cy="536.57" r="2.1" fill="#ff20ff"/>
<circle cx="577.05" cy="536.24" r="2.1" fill="#ff20ff"/>
<circle cx="585.90" cy="536.24" r="2.1" fill="#ff20ff"/>
<circle cx="594.75" cy="536.24" r="2.1" fill="#ff20ff"/>
<circle cx="603.60" cy="536.24" r="2.1" fill="#ff20ff"/>
<circle cx="612.45" cy="536.24" r="2.1" fill="#ff20ff"/>
<circle cx="621.30" cy="535.92" r="2.1" fill="#ff20ff"/>
<circle cx="630.15" cy="535.92" r="2.1" fill="#ff20ff"/>
<circle cx="639.00" cy="535.92" r="2.1" fill="#ff20ff"/>
<circle cx="647.85" cy="535.92" r="2.1" fill="#ff20ff"/>
<circle cx="656.70" cy="535.60" r="2.1" fill="#ff20ff"/>
<circle cx="665.55" cy="535.60" r="2.1" fill="#ff20ff"/>
<circle cx="674.40" cy="535.60" r="2.1" fill="#ff20ff"/>
<polyline points="497.40,460.75 506.25,460.91 515.10,461.08 523.95,461.24 532.80,461.40 541.65,461.56 550.50,461.72 559.35,461.89 568.20,462.05 577.05,462.21 585.90,462.37 594.75,462.53 603.60,462.70 612.45,462.86 621.30,463.02 630.15,463.18 639.00,463.34 647.85,463.51 656.70,463.67 665.55,463.83 674.40,463.99" fill="none" stroke="#2020ff" stroke-width="1.3" stroke-linejoin="round"/>
<polygon points="495.19,462.74 499.60,462.74 497.40,458.77" fill="#2020ff"/>
<polygon points="504.05,462.90 508.45,462.90 506.25,458.93" fill="#2020ff"/>
<polygon points="512.89,463.06 517.31,463.06 515.10,459.09" fill="#2020ff"/>
<polygon points="521.74,463.22 526.15,463.22 523.95,459.25" fill="#2020ff"/>
<polygon points="530.59,463.38 535.00,463.38 532.80,459.42" fill="#2020ff"/>
<polygon points="539.44,463.55 543.86,463.55 541.65,459.58" fill="#2020ff"/>
<polygon points="548.29,463.71 552.71,463.71 550.50,459.74" fill="#2020ff"/>
<polygon points="557.14,463.87 561.56,463.87 559.35,459.90" fill="#2020ff"/>
<polygon points="565.99,464.03 570.40,464.03 568.20,460.06" fill="#2020ff"/>
<polygon points="574.84,464.19 579.25,464.19 577.05,460.23" fill="#2020ff"/>
<polygon points="583.69,464.36 588.11,464.36 585.90,460.39" fill="#2020ff"/>
<polygon points="592.54,464.52 596.96,464.52 594.75,460.55" fill="#2020ff"/>
<polygon points="601.39,464.68 605.80,464.68 603.60,460.71" fill="#2020ff"/>
<polygon points="610.24,464.84 614.65,464.84 612.45,460.87" fill="#2020ff"/>
<polygon points="619.09,465.00 623.50,465.00 621.30,461.04" fill="#2020ff"/>
<polygon points="627.94,465.17 632.36,465.17 630.15,461.20" fill="#2020ff"/>
<polygon points="636.79,465.33 641.21,465.33 639.00,461.36" fill="#2020ff"/>
<polygon points="645.64,465.49 650.05,465.49 647.85,461.52" fill="#2020ff"/>
<polygon points="654.49,465.65 658.90,465.65 656.70,461.68" fill="#2020ff"/>
<polygon points="663.34,465.81 667.75,465.81 665.55,461.85" fill="#2020ff"/>
<polygon points="672.19,465.98 676.61,465.98 674.40,462.01" fill="#2020ff"/>
<polyline points="497.40,458.48 506.25,443.90 515.10,435.16 523.95,425.76 532.80,419.60 541.65,415.39 550.50,411.50 559.35,408.26 568.20,405.67 577.05,406.00 585.90,405.02 594.75,403.08 603.60,402.76 612.45,401.46 621.30,400.49 630.15,401.14 639.00,400.49 647.85,401.14 656.70,402.43 665.55,403.40 674.40,404.38" fill="none" stroke="#ff2020" stroke-width="1.3" stroke-linejoin="round"/>
<polygon points="495.19,456.50 499.60,456.50 497.40,460.47" fill="#ff2020"/>
<polygon points="504.05,441.92 508.45,441.92 506.25,445.89" fill="#ff2020"/>
<polygon points="512.89,433.17 517.31,433.17 515.10,437.14" fill="#ff2020"/>
<polygon points="521.74,423.78 526.15,423.78 523.95,427.74" fill="#ff2020"/>
<polygon points="530.59,417.62 535.00,417.62 532.80,421.59" fill="#ff2020"/>
<polygon points="539.44,413.41 543.86,413.41 541.65,417.38" fill="#ff2020"/>
<polygon points="548.29,409.52 552.71,409.52 550.50,413.49" fill="#ff2020"/>
<polygon points="557.14,406.28 561.56,406.28 559.35,410.25" fill="#ff2020"/>
<polygon points="565.99,403.69 570.40,403.69 568.20,407.66" fill="#ff2020"/>
<polygon points="574.84,404.01 579.25,404.01 577.05,407.98" fill="#ff2020"/>
<polygon points="583.69,403.04 588.11,403.04 585.90,407.01" fill="#ff2020"/>
<polygon points="592.54,401.10 596.96,401.10 594.75,405.06" fill="#ff2020"/>
<polygon points="601.39,400.77 605.80,400.77 603.60,404.74" fill="#ff2020"/>
<polygon points="610.24,399.48 614.65,399.48 612.45,403.44" fill="#ff2020"/>
<polygon points="619.09,398.50 623.50,398.50 621.30,402.47" fill="#ff2020"/>
<polygon points="627.94,399.15 632.36,399.15 630.15,403.12" fill="#ff2020"/>
<polygon points="636.79,398.50 641.21,398.50 639.00,402.47" fill="#ff2020"/>
<polygon points="645.64,399.15 650.05,399.15 647.85,403.12" fill="#ff2020"/>
<polygon points="654.49,400.45 658.90,400.45 656.70,404.42" fill="#ff2020"/>
<polygon points="663.34,401.42 667.75,401.42 665.55,405.39" fill="#ff2020"/>
<polygon points="672.19,402.39 676.61,402.39 674.40,406.36" fill="#ff2020"/>
<line x1="493.90" y1="478.40" x2="514.50" y2="478.40" stroke="#ff2020" stroke-width="1.3"/>
<polygon points="501.78,476.23 506.62,476.23 504.20,480.57" fill="#ff2020"/>
<text x="0" y="0" font-size="7.8" font-weight="bold" text-anchor="start" fill="#000" transform="translate(517.1 481.29999999999995) scale(1 1.1)">pHPFON-O<tspan font-size="6" dy="2">2</tspan><tspan dy="-2"> + Laser</tspan></text>
<line x1="493.90" y1="492.40" x2="514.50" y2="492.40" stroke="#2020ff" stroke-width="1.3"/>
<polygon points="501.78,494.57 506.62,494.57 504.20,490.23" fill="#2020ff"/>
<text x="0" y="0" font-size="7.8" font-weight="bold" text-anchor="start" fill="#000" transform="translate(517.1 495.29999999999995) scale(1 1.1)">pHPFON-O<tspan font-size="6" dy="2">2</tspan></text>
<line x1="493.90" y1="506.80" x2="514.50" y2="506.80" stroke="#ff20ff" stroke-width="1.3"/>
<circle cx="504.20" cy="506.80" r="2.3" fill="#ff20ff"/>
<text x="0" y="0" font-size="7.8" font-weight="bold" text-anchor="start" fill="#000" transform="translate(517.1 509.7) scale(1 1.1)">deoxygenated H<tspan font-size="6" dy="2">2</tspan><tspan dy="-2">O + Laser</tspan></text>
<line x1="493.90" y1="521.20" x2="514.50" y2="521.20" stroke="#000" stroke-width="1.3"/>
<rect x="502.25" y="519.25" width="3.9099999999999997" height="3.9099999999999997" fill="#000"/>
<text x="0" y="0" font-size="7.8" font-weight="bold" text-anchor="start" fill="#000" transform="translate(517.1 524.1) scale(1 1.1)">deoxygenated H<tspan font-size="6" dy="2">2</tspan><tspan dy="-2">O</tspan></text>
<text x="0" y="0" font-size="9.9" font-weight="bold" text-anchor="start" fill="#000" transform="translate(561.3 565.2) scale(1 1.1)" textLength="50" lengthAdjust="spacingAndGlyphs">Time (min)</text>
<text x="0" y="0" font-size="9.9" font-weight="bold" text-anchor="start" fill="#000" transform="translate(471.8 516.4) rotate(-90) scale(1 1.1)">O<tspan font-size="6.5" dy="2.5">2</tspan><tspan dy="-2.5"> Concentration (mg/L)</tspan></text>
<text x="0" y="0" font-size="18.7" font-weight="bold" text-anchor="start" fill="#000" transform="translate(460.9 390.9)">i</text>
</svg></body></html>
